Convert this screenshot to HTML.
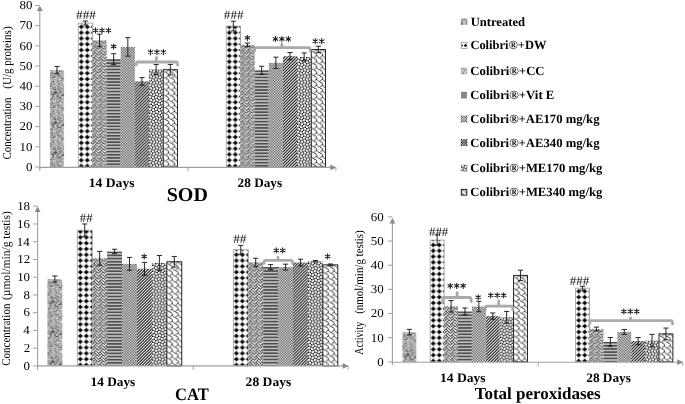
<!DOCTYPE html><html><head><meta charset="utf-8"><style>html,body{margin:0;padding:0;background:#fff;}svg{display:block;font-family:"Liberation Serif",serif;filter:grayscale(1);text-rendering:geometricPrecision;}</style></head><body><svg width="685" height="404" viewBox="0 0 685 404" font-family="Liberation Serif, serif" fill="#000"><defs><pattern id="p_untr" patternUnits="userSpaceOnUse" width="30" height="30"><rect x="0" y="0" width="1" height="1" fill="#c4c4c4"/><rect x="1" y="0" width="1" height="1" fill="#898989"/><rect x="2" y="0" width="1" height="1" fill="#9a9a9a"/><rect x="3" y="0" width="1" height="1" fill="#eaeaea"/><rect x="4" y="0" width="1" height="1" fill="#a7a7a7"/><rect x="5" y="0" width="1" height="1" fill="#cecece"/><rect x="6" y="0" width="1" height="1" fill="#8b8b8b"/><rect x="7" y="0" width="1" height="1" fill="#ababab"/><rect x="8" y="0" width="1" height="1" fill="#bfbfbf"/><rect x="9" y="0" width="1" height="1" fill="#8d8d8d"/><rect x="10" y="0" width="1" height="1" fill="#aeaeae"/><rect x="11" y="0" width="1" height="1" fill="#ababab"/><rect x="12" y="0" width="1" height="1" fill="#cacaca"/><rect x="13" y="0" width="1" height="1" fill="#d7d7d7"/><rect x="14" y="0" width="1" height="1" fill="#eeeeee"/><rect x="15" y="0" width="1" height="1" fill="#cbcbcb"/><rect x="16" y="0" width="1" height="1" fill="#cdcdcd"/><rect x="17" y="0" width="1" height="1" fill="#ababab"/><rect x="18" y="0" width="1" height="1" fill="#767676"/><rect x="19" y="0" width="1" height="1" fill="#595959"/><rect x="20" y="0" width="1" height="1" fill="#c3c3c3"/><rect x="21" y="0" width="1" height="1" fill="#aaaaaa"/><rect x="22" y="0" width="1" height="1" fill="#717171"/><rect x="23" y="0" width="1" height="1" fill="#696969"/><rect x="24" y="0" width="1" height="1" fill="#888888"/><rect x="25" y="0" width="1" height="1" fill="#c7c7c7"/><rect x="26" y="0" width="1" height="1" fill="#d6d6d6"/><rect x="27" y="0" width="1" height="1" fill="#b7b7b7"/><rect x="28" y="0" width="1" height="1" fill="#828282"/><rect x="29" y="0" width="1" height="1" fill="#d0d0d0"/><rect x="0" y="1" width="1" height="1" fill="#c7c7c7"/><rect x="1" y="1" width="1" height="1" fill="#b3b3b3"/><rect x="2" y="1" width="1" height="1" fill="#b4b4b4"/><rect x="3" y="1" width="1" height="1" fill="#c7c7c7"/><rect x="4" y="1" width="1" height="1" fill="#b8b8b8"/><rect x="5" y="1" width="1" height="1" fill="#c9c9c9"/><rect x="6" y="1" width="1" height="1" fill="#979797"/><rect x="7" y="1" width="1" height="1" fill="#c4c4c4"/><rect x="8" y="1" width="1" height="1" fill="#c2c2c2"/><rect x="9" y="1" width="1" height="1" fill="#636363"/><rect x="10" y="1" width="1" height="1" fill="#9a9a9a"/><rect x="11" y="1" width="1" height="1" fill="#8e8e8e"/><rect x="12" y="1" width="1" height="1" fill="#a7a7a7"/><rect x="13" y="1" width="1" height="1" fill="#a0a0a0"/><rect x="14" y="1" width="1" height="1" fill="#d5d5d5"/><rect x="15" y="1" width="1" height="1" fill="#c5c5c5"/><rect x="16" y="1" width="1" height="1" fill="#ababab"/><rect x="17" y="1" width="1" height="1" fill="#a5a5a5"/><rect x="18" y="1" width="1" height="1" fill="#a5a5a5"/><rect x="19" y="1" width="1" height="1" fill="#bebebe"/><rect x="20" y="1" width="1" height="1" fill="#acacac"/><rect x="21" y="1" width="1" height="1" fill="#bdbdbd"/><rect x="22" y="1" width="1" height="1" fill="#979797"/><rect x="23" y="1" width="1" height="1" fill="#727272"/><rect x="24" y="1" width="1" height="1" fill="#999999"/><rect x="25" y="1" width="1" height="1" fill="#afafaf"/><rect x="26" y="1" width="1" height="1" fill="#c8c8c8"/><rect x="27" y="1" width="1" height="1" fill="#929292"/><rect x="28" y="1" width="1" height="1" fill="#989898"/><rect x="29" y="1" width="1" height="1" fill="#cccccc"/><rect x="0" y="2" width="1" height="1" fill="#aeaeae"/><rect x="1" y="2" width="1" height="1" fill="#9e9e9e"/><rect x="2" y="2" width="1" height="1" fill="#818181"/><rect x="3" y="2" width="1" height="1" fill="#a9a9a9"/><rect x="4" y="2" width="1" height="1" fill="#b1b1b1"/><rect x="5" y="2" width="1" height="1" fill="#b7b7b7"/><rect x="6" y="2" width="1" height="1" fill="#999999"/><rect x="7" y="2" width="1" height="1" fill="#7c7c7c"/><rect x="8" y="2" width="1" height="1" fill="#696969"/><rect x="9" y="2" width="1" height="1" fill="#b1b1b1"/><rect x="10" y="2" width="1" height="1" fill="#f0f0f0"/><rect x="11" y="2" width="1" height="1" fill="#9d9d9d"/><rect x="12" y="2" width="1" height="1" fill="#9b9b9b"/><rect x="13" y="2" width="1" height="1" fill="#cecece"/><rect x="14" y="2" width="1" height="1" fill="#a9a9a9"/><rect x="15" y="2" width="1" height="1" fill="#cfcfcf"/><rect x="16" y="2" width="1" height="1" fill="#c2c2c2"/><rect x="17" y="2" width="1" height="1" fill="#a7a7a7"/><rect x="18" y="2" width="1" height="1" fill="#929292"/><rect x="19" y="2" width="1" height="1" fill="#ababab"/><rect x="20" y="2" width="1" height="1" fill="#a5a5a5"/><rect x="21" y="2" width="1" height="1" fill="#dedede"/><rect x="22" y="2" width="1" height="1" fill="#9f9f9f"/><rect x="23" y="2" width="1" height="1" fill="#444444"/><rect x="24" y="2" width="1" height="1" fill="#727272"/><rect x="25" y="2" width="1" height="1" fill="#aaaaaa"/><rect x="26" y="2" width="1" height="1" fill="#9d9d9d"/><rect x="27" y="2" width="1" height="1" fill="#aeaeae"/><rect x="28" y="2" width="1" height="1" fill="#9f9f9f"/><rect x="29" y="2" width="1" height="1" fill="#c1c1c1"/><rect x="0" y="3" width="1" height="1" fill="#8c8c8c"/><rect x="1" y="3" width="1" height="1" fill="#a3a3a3"/><rect x="2" y="3" width="1" height="1" fill="#7f7f7f"/><rect x="3" y="3" width="1" height="1" fill="#a3a3a3"/><rect x="4" y="3" width="1" height="1" fill="#b2b2b2"/><rect x="5" y="3" width="1" height="1" fill="#a7a7a7"/><rect x="6" y="3" width="1" height="1" fill="#ababab"/><rect x="7" y="3" width="1" height="1" fill="#a2a2a2"/><rect x="8" y="3" width="1" height="1" fill="#c1c1c1"/><rect x="9" y="3" width="1" height="1" fill="#bbbbbb"/><rect x="10" y="3" width="1" height="1" fill="#d6d6d6"/><rect x="11" y="3" width="1" height="1" fill="#cccccc"/><rect x="12" y="3" width="1" height="1" fill="#959595"/><rect x="13" y="3" width="1" height="1" fill="#bebebe"/><rect x="14" y="3" width="1" height="1" fill="#c5c5c5"/><rect x="15" y="3" width="1" height="1" fill="#707070"/><rect x="16" y="3" width="1" height="1" fill="#929292"/><rect x="17" y="3" width="1" height="1" fill="#b0b0b0"/><rect x="18" y="3" width="1" height="1" fill="#767676"/><rect x="19" y="3" width="1" height="1" fill="#a6a6a6"/><rect x="20" y="3" width="1" height="1" fill="#aeaeae"/><rect x="21" y="3" width="1" height="1" fill="#555555"/><rect x="22" y="3" width="1" height="1" fill="#515151"/><rect x="23" y="3" width="1" height="1" fill="#a2a2a2"/><rect x="24" y="3" width="1" height="1" fill="#b5b5b5"/><rect x="25" y="3" width="1" height="1" fill="#b7b7b7"/><rect x="26" y="3" width="1" height="1" fill="#8f8f8f"/><rect x="27" y="3" width="1" height="1" fill="#c5c5c5"/><rect x="28" y="3" width="1" height="1" fill="#bcbcbc"/><rect x="29" y="3" width="1" height="1" fill="#f0f0f0"/><rect x="0" y="4" width="1" height="1" fill="#8d8d8d"/><rect x="1" y="4" width="1" height="1" fill="#bbbbbb"/><rect x="2" y="4" width="1" height="1" fill="#848484"/><rect x="3" y="4" width="1" height="1" fill="#aeaeae"/><rect x="4" y="4" width="1" height="1" fill="#a5a5a5"/><rect x="5" y="4" width="1" height="1" fill="#afafaf"/><rect x="6" y="4" width="1" height="1" fill="#9c9c9c"/><rect x="7" y="4" width="1" height="1" fill="#a6a6a6"/><rect x="8" y="4" width="1" height="1" fill="#8f8f8f"/><rect x="9" y="4" width="1" height="1" fill="#b2b2b2"/><rect x="10" y="4" width="1" height="1" fill="#a5a5a5"/><rect x="11" y="4" width="1" height="1" fill="#c1c1c1"/><rect x="12" y="4" width="1" height="1" fill="#9a9a9a"/><rect x="13" y="4" width="1" height="1" fill="#cbcbcb"/><rect x="14" y="4" width="1" height="1" fill="#9c9c9c"/><rect x="15" y="4" width="1" height="1" fill="#d3d3d3"/><rect x="16" y="4" width="1" height="1" fill="#9f9f9f"/><rect x="17" y="4" width="1" height="1" fill="#a0a0a0"/><rect x="18" y="4" width="1" height="1" fill="#838383"/><rect x="19" y="4" width="1" height="1" fill="#b6b6b6"/><rect x="20" y="4" width="1" height="1" fill="#bfbfbf"/><rect x="21" y="4" width="1" height="1" fill="#868686"/><rect x="22" y="4" width="1" height="1" fill="#898989"/><rect x="23" y="4" width="1" height="1" fill="#767676"/><rect x="24" y="4" width="1" height="1" fill="#b3b3b3"/><rect x="25" y="4" width="1" height="1" fill="#989898"/><rect x="26" y="4" width="1" height="1" fill="#c4c4c4"/><rect x="27" y="4" width="1" height="1" fill="#c7c7c7"/><rect x="28" y="4" width="1" height="1" fill="#939393"/><rect x="29" y="4" width="1" height="1" fill="#c8c8c8"/><rect x="0" y="5" width="1" height="1" fill="#bababa"/><rect x="1" y="5" width="1" height="1" fill="#989898"/><rect x="2" y="5" width="1" height="1" fill="#868686"/><rect x="3" y="5" width="1" height="1" fill="#b2b2b2"/><rect x="4" y="5" width="1" height="1" fill="#9e9e9e"/><rect x="5" y="5" width="1" height="1" fill="#a8a8a8"/><rect x="6" y="5" width="1" height="1" fill="#c9c9c9"/><rect x="7" y="5" width="1" height="1" fill="#878787"/><rect x="8" y="5" width="1" height="1" fill="#676767"/><rect x="9" y="5" width="1" height="1" fill="#9e9e9e"/><rect x="10" y="5" width="1" height="1" fill="#9b9b9b"/><rect x="11" y="5" width="1" height="1" fill="#989898"/><rect x="12" y="5" width="1" height="1" fill="#c1c1c1"/><rect x="13" y="5" width="1" height="1" fill="#c6c6c6"/><rect x="14" y="5" width="1" height="1" fill="#b1b1b1"/><rect x="15" y="5" width="1" height="1" fill="#a9a9a9"/><rect x="16" y="5" width="1" height="1" fill="#a4a4a4"/><rect x="17" y="5" width="1" height="1" fill="#c6c6c6"/><rect x="18" y="5" width="1" height="1" fill="#898989"/><rect x="19" y="5" width="1" height="1" fill="#b9b9b9"/><rect x="20" y="5" width="1" height="1" fill="#787878"/><rect x="21" y="5" width="1" height="1" fill="#7f7f7f"/><rect x="22" y="5" width="1" height="1" fill="#868686"/><rect x="23" y="5" width="1" height="1" fill="#909090"/><rect x="24" y="5" width="1" height="1" fill="#8a8a8a"/><rect x="25" y="5" width="1" height="1" fill="#5b5b5b"/><rect x="26" y="5" width="1" height="1" fill="#656565"/><rect x="27" y="5" width="1" height="1" fill="#9d9d9d"/><rect x="28" y="5" width="1" height="1" fill="#a8a8a8"/><rect x="29" y="5" width="1" height="1" fill="#bfbfbf"/><rect x="0" y="6" width="1" height="1" fill="#858585"/><rect x="1" y="6" width="1" height="1" fill="#bfbfbf"/><rect x="2" y="6" width="1" height="1" fill="#b6b6b6"/><rect x="3" y="6" width="1" height="1" fill="#7f7f7f"/><rect x="4" y="6" width="1" height="1" fill="#939393"/><rect x="5" y="6" width="1" height="1" fill="#878787"/><rect x="6" y="6" width="1" height="1" fill="#c2c2c2"/><rect x="7" y="6" width="1" height="1" fill="#bdbdbd"/><rect x="8" y="6" width="1" height="1" fill="#9c9c9c"/><rect x="9" y="6" width="1" height="1" fill="#999999"/><rect x="10" y="6" width="1" height="1" fill="#7c7c7c"/><rect x="11" y="6" width="1" height="1" fill="#9e9e9e"/><rect x="12" y="6" width="1" height="1" fill="#cacaca"/><rect x="13" y="6" width="1" height="1" fill="#c0c0c0"/><rect x="14" y="6" width="1" height="1" fill="#383838"/><rect x="15" y="6" width="1" height="1" fill="#a0a0a0"/><rect x="16" y="6" width="1" height="1" fill="#c2c2c2"/><rect x="17" y="6" width="1" height="1" fill="#939393"/><rect x="18" y="6" width="1" height="1" fill="#858585"/><rect x="19" y="6" width="1" height="1" fill="#c0c0c0"/><rect x="20" y="6" width="1" height="1" fill="#aaaaaa"/><rect x="21" y="6" width="1" height="1" fill="#c3c3c3"/><rect x="22" y="6" width="1" height="1" fill="#c5c5c5"/><rect x="23" y="6" width="1" height="1" fill="#9c9c9c"/><rect x="24" y="6" width="1" height="1" fill="#8f8f8f"/><rect x="25" y="6" width="1" height="1" fill="#7b7b7b"/><rect x="26" y="6" width="1" height="1" fill="#ececec"/><rect x="27" y="6" width="1" height="1" fill="#9d9d9d"/><rect x="28" y="6" width="1" height="1" fill="#a4a4a4"/><rect x="29" y="6" width="1" height="1" fill="#777777"/><rect x="0" y="7" width="1" height="1" fill="#939393"/><rect x="1" y="7" width="1" height="1" fill="#9f9f9f"/><rect x="2" y="7" width="1" height="1" fill="#a3a3a3"/><rect x="3" y="7" width="1" height="1" fill="#3f3f3f"/><rect x="4" y="7" width="1" height="1" fill="#9b9b9b"/><rect x="5" y="7" width="1" height="1" fill="#939393"/><rect x="6" y="7" width="1" height="1" fill="#b6b6b6"/><rect x="7" y="7" width="1" height="1" fill="#a9a9a9"/><rect x="8" y="7" width="1" height="1" fill="#b8b8b8"/><rect x="9" y="7" width="1" height="1" fill="#acacac"/><rect x="10" y="7" width="1" height="1" fill="#aeaeae"/><rect x="11" y="7" width="1" height="1" fill="#a3a3a3"/><rect x="12" y="7" width="1" height="1" fill="#aaaaaa"/><rect x="13" y="7" width="1" height="1" fill="#bcbcbc"/><rect x="14" y="7" width="1" height="1" fill="#939393"/><rect x="15" y="7" width="1" height="1" fill="#c4c4c4"/><rect x="16" y="7" width="1" height="1" fill="#c8c8c8"/><rect x="17" y="7" width="1" height="1" fill="#7d7d7d"/><rect x="18" y="7" width="1" height="1" fill="#bfbfbf"/><rect x="19" y="7" width="1" height="1" fill="#a0a0a0"/><rect x="20" y="7" width="1" height="1" fill="#c5c5c5"/><rect x="21" y="7" width="1" height="1" fill="#aeaeae"/><rect x="22" y="7" width="1" height="1" fill="#959595"/><rect x="23" y="7" width="1" height="1" fill="#8d8d8d"/><rect x="24" y="7" width="1" height="1" fill="#b5b5b5"/><rect x="25" y="7" width="1" height="1" fill="#a6a6a6"/><rect x="26" y="7" width="1" height="1" fill="#adadad"/><rect x="27" y="7" width="1" height="1" fill="#a2a2a2"/><rect x="28" y="7" width="1" height="1" fill="#a5a5a5"/><rect x="29" y="7" width="1" height="1" fill="#b8b8b8"/><rect x="0" y="8" width="1" height="1" fill="#bbbbbb"/><rect x="1" y="8" width="1" height="1" fill="#afafaf"/><rect x="2" y="8" width="1" height="1" fill="#bebebe"/><rect x="3" y="8" width="1" height="1" fill="#a3a3a3"/><rect x="4" y="8" width="1" height="1" fill="#dadada"/><rect x="5" y="8" width="1" height="1" fill="#d5d5d5"/><rect x="6" y="8" width="1" height="1" fill="#e6e6e6"/><rect x="7" y="8" width="1" height="1" fill="#8e8e8e"/><rect x="8" y="8" width="1" height="1" fill="#b2b2b2"/><rect x="9" y="8" width="1" height="1" fill="#969696"/><rect x="10" y="8" width="1" height="1" fill="#cccccc"/><rect x="11" y="8" width="1" height="1" fill="#919191"/><rect x="12" y="8" width="1" height="1" fill="#343434"/><rect x="13" y="8" width="1" height="1" fill="#a3a3a3"/><rect x="14" y="8" width="1" height="1" fill="#9b9b9b"/><rect x="15" y="8" width="1" height="1" fill="#959595"/><rect x="16" y="8" width="1" height="1" fill="#878787"/><rect x="17" y="8" width="1" height="1" fill="#a6a6a6"/><rect x="18" y="8" width="1" height="1" fill="#d1d1d1"/><rect x="19" y="8" width="1" height="1" fill="#bababa"/><rect x="20" y="8" width="1" height="1" fill="#cdcdcd"/><rect x="21" y="8" width="1" height="1" fill="#9e9e9e"/><rect x="22" y="8" width="1" height="1" fill="#acacac"/><rect x="23" y="8" width="1" height="1" fill="#c0c0c0"/><rect x="24" y="8" width="1" height="1" fill="#cacaca"/><rect x="25" y="8" width="1" height="1" fill="#9d9d9d"/><rect x="26" y="8" width="1" height="1" fill="#9d9d9d"/><rect x="27" y="8" width="1" height="1" fill="#9b9b9b"/><rect x="28" y="8" width="1" height="1" fill="#a6a6a6"/><rect x="29" y="8" width="1" height="1" fill="#a1a1a1"/><rect x="0" y="9" width="1" height="1" fill="#c6c6c6"/><rect x="1" y="9" width="1" height="1" fill="#949494"/><rect x="2" y="9" width="1" height="1" fill="#959595"/><rect x="3" y="9" width="1" height="1" fill="#cdcdcd"/><rect x="4" y="9" width="1" height="1" fill="#999999"/><rect x="5" y="9" width="1" height="1" fill="#9c9c9c"/><rect x="6" y="9" width="1" height="1" fill="#a5a5a5"/><rect x="7" y="9" width="1" height="1" fill="#9c9c9c"/><rect x="8" y="9" width="1" height="1" fill="#d7d7d7"/><rect x="9" y="9" width="1" height="1" fill="#d4d4d4"/><rect x="10" y="9" width="1" height="1" fill="#c8c8c8"/><rect x="11" y="9" width="1" height="1" fill="#b9b9b9"/><rect x="12" y="9" width="1" height="1" fill="#a9a9a9"/><rect x="13" y="9" width="1" height="1" fill="#b0b0b0"/><rect x="14" y="9" width="1" height="1" fill="#969696"/><rect x="15" y="9" width="1" height="1" fill="#a8a8a8"/><rect x="16" y="9" width="1" height="1" fill="#c0c0c0"/><rect x="17" y="9" width="1" height="1" fill="#b6b6b6"/><rect x="18" y="9" width="1" height="1" fill="#a5a5a5"/><rect x="19" y="9" width="1" height="1" fill="#bcbcbc"/><rect x="20" y="9" width="1" height="1" fill="#a1a1a1"/><rect x="21" y="9" width="1" height="1" fill="#686868"/><rect x="22" y="9" width="1" height="1" fill="#9c9c9c"/><rect x="23" y="9" width="1" height="1" fill="#b8b8b8"/><rect x="24" y="9" width="1" height="1" fill="#999999"/><rect x="25" y="9" width="1" height="1" fill="#9e9e9e"/><rect x="26" y="9" width="1" height="1" fill="#c5c5c5"/><rect x="27" y="9" width="1" height="1" fill="#979797"/><rect x="28" y="9" width="1" height="1" fill="#929292"/><rect x="29" y="9" width="1" height="1" fill="#dbdbdb"/><rect x="0" y="10" width="1" height="1" fill="#cccccc"/><rect x="1" y="10" width="1" height="1" fill="#c6c6c6"/><rect x="2" y="10" width="1" height="1" fill="#a8a8a8"/><rect x="3" y="10" width="1" height="1" fill="#939393"/><rect x="4" y="10" width="1" height="1" fill="#c7c7c7"/><rect x="5" y="10" width="1" height="1" fill="#bfbfbf"/><rect x="6" y="10" width="1" height="1" fill="#c7c7c7"/><rect x="7" y="10" width="1" height="1" fill="#757575"/><rect x="8" y="10" width="1" height="1" fill="#a6a6a6"/><rect x="9" y="10" width="1" height="1" fill="#a5a5a5"/><rect x="10" y="10" width="1" height="1" fill="#909090"/><rect x="11" y="10" width="1" height="1" fill="#989898"/><rect x="12" y="10" width="1" height="1" fill="#9d9d9d"/><rect x="13" y="10" width="1" height="1" fill="#cacaca"/><rect x="14" y="10" width="1" height="1" fill="#9c9c9c"/><rect x="15" y="10" width="1" height="1" fill="#8a8a8a"/><rect x="16" y="10" width="1" height="1" fill="#909090"/><rect x="17" y="10" width="1" height="1" fill="#b5b5b5"/><rect x="18" y="10" width="1" height="1" fill="#b5b5b5"/><rect x="19" y="10" width="1" height="1" fill="#a0a0a0"/><rect x="20" y="10" width="1" height="1" fill="#616161"/><rect x="21" y="10" width="1" height="1" fill="#a2a2a2"/><rect x="22" y="10" width="1" height="1" fill="#c4c4c4"/><rect x="23" y="10" width="1" height="1" fill="#a6a6a6"/><rect x="24" y="10" width="1" height="1" fill="#8f8f8f"/><rect x="25" y="10" width="1" height="1" fill="#a5a5a5"/><rect x="26" y="10" width="1" height="1" fill="#b0b0b0"/><rect x="27" y="10" width="1" height="1" fill="#8a8a8a"/><rect x="28" y="10" width="1" height="1" fill="#5b5b5b"/><rect x="29" y="10" width="1" height="1" fill="#bbbbbb"/><rect x="0" y="11" width="1" height="1" fill="#c3c3c3"/><rect x="1" y="11" width="1" height="1" fill="#9a9a9a"/><rect x="2" y="11" width="1" height="1" fill="#919191"/><rect x="3" y="11" width="1" height="1" fill="#757575"/><rect x="4" y="11" width="1" height="1" fill="#949494"/><rect x="5" y="11" width="1" height="1" fill="#d0d0d0"/><rect x="6" y="11" width="1" height="1" fill="#bbbbbb"/><rect x="7" y="11" width="1" height="1" fill="#b8b8b8"/><rect x="8" y="11" width="1" height="1" fill="#8d8d8d"/><rect x="9" y="11" width="1" height="1" fill="#c5c5c5"/><rect x="10" y="11" width="1" height="1" fill="#cbcbcb"/><rect x="11" y="11" width="1" height="1" fill="#afafaf"/><rect x="12" y="11" width="1" height="1" fill="#bababa"/><rect x="13" y="11" width="1" height="1" fill="#bababa"/><rect x="14" y="11" width="1" height="1" fill="#a6a6a6"/><rect x="15" y="11" width="1" height="1" fill="#e5e5e5"/><rect x="16" y="11" width="1" height="1" fill="#a8a8a8"/><rect x="17" y="11" width="1" height="1" fill="#aeaeae"/><rect x="18" y="11" width="1" height="1" fill="#f0f0f0"/><rect x="19" y="11" width="1" height="1" fill="#949494"/><rect x="20" y="11" width="1" height="1" fill="#7c7c7c"/><rect x="21" y="11" width="1" height="1" fill="#b0b0b0"/><rect x="22" y="11" width="1" height="1" fill="#6e6e6e"/><rect x="23" y="11" width="1" height="1" fill="#9a9a9a"/><rect x="24" y="11" width="1" height="1" fill="#b5b5b5"/><rect x="25" y="11" width="1" height="1" fill="#bebebe"/><rect x="26" y="11" width="1" height="1" fill="#989898"/><rect x="27" y="11" width="1" height="1" fill="#a2a2a2"/><rect x="28" y="11" width="1" height="1" fill="#b3b3b3"/><rect x="29" y="11" width="1" height="1" fill="#c1c1c1"/><rect x="0" y="12" width="1" height="1" fill="#bebebe"/><rect x="1" y="12" width="1" height="1" fill="#bcbcbc"/><rect x="2" y="12" width="1" height="1" fill="#9c9c9c"/><rect x="3" y="12" width="1" height="1" fill="#9a9a9a"/><rect x="4" y="12" width="1" height="1" fill="#a2a2a2"/><rect x="5" y="12" width="1" height="1" fill="#c8c8c8"/><rect x="6" y="12" width="1" height="1" fill="#b5b5b5"/><rect x="7" y="12" width="1" height="1" fill="#8b8b8b"/><rect x="8" y="12" width="1" height="1" fill="#949494"/><rect x="9" y="12" width="1" height="1" fill="#a0a0a0"/><rect x="10" y="12" width="1" height="1" fill="#bcbcbc"/><rect x="11" y="12" width="1" height="1" fill="#adadad"/><rect x="12" y="12" width="1" height="1" fill="#a3a3a3"/><rect x="13" y="12" width="1" height="1" fill="#f0f0f0"/><rect x="14" y="12" width="1" height="1" fill="#f0f0f0"/><rect x="15" y="12" width="1" height="1" fill="#d2d2d2"/><rect x="16" y="12" width="1" height="1" fill="#b2b2b2"/><rect x="17" y="12" width="1" height="1" fill="#909090"/><rect x="18" y="12" width="1" height="1" fill="#bbbbbb"/><rect x="19" y="12" width="1" height="1" fill="#b4b4b4"/><rect x="20" y="12" width="1" height="1" fill="#8a8a8a"/><rect x="21" y="12" width="1" height="1" fill="#646464"/><rect x="22" y="12" width="1" height="1" fill="#8f8f8f"/><rect x="23" y="12" width="1" height="1" fill="#8e8e8e"/><rect x="24" y="12" width="1" height="1" fill="#929292"/><rect x="25" y="12" width="1" height="1" fill="#a4a4a4"/><rect x="26" y="12" width="1" height="1" fill="#747474"/><rect x="27" y="12" width="1" height="1" fill="#a8a8a8"/><rect x="28" y="12" width="1" height="1" fill="#bbbbbb"/><rect x="29" y="12" width="1" height="1" fill="#a6a6a6"/><rect x="0" y="13" width="1" height="1" fill="#858585"/><rect x="1" y="13" width="1" height="1" fill="#7a7a7a"/><rect x="2" y="13" width="1" height="1" fill="#c5c5c5"/><rect x="3" y="13" width="1" height="1" fill="#a9a9a9"/><rect x="4" y="13" width="1" height="1" fill="#8c8c8c"/><rect x="5" y="13" width="1" height="1" fill="#cbcbcb"/><rect x="6" y="13" width="1" height="1" fill="#c4c4c4"/><rect x="7" y="13" width="1" height="1" fill="#bebebe"/><rect x="8" y="13" width="1" height="1" fill="#8c8c8c"/><rect x="9" y="13" width="1" height="1" fill="#969696"/><rect x="10" y="13" width="1" height="1" fill="#9b9b9b"/><rect x="11" y="13" width="1" height="1" fill="#b3b3b3"/><rect x="12" y="13" width="1" height="1" fill="#b4b4b4"/><rect x="13" y="13" width="1" height="1" fill="#c1c1c1"/><rect x="14" y="13" width="1" height="1" fill="#c5c5c5"/><rect x="15" y="13" width="1" height="1" fill="#cccccc"/><rect x="16" y="13" width="1" height="1" fill="#aeaeae"/><rect x="17" y="13" width="1" height="1" fill="#c0c0c0"/><rect x="18" y="13" width="1" height="1" fill="#c6c6c6"/><rect x="19" y="13" width="1" height="1" fill="#bababa"/><rect x="20" y="13" width="1" height="1" fill="#878787"/><rect x="21" y="13" width="1" height="1" fill="#9b9b9b"/><rect x="22" y="13" width="1" height="1" fill="#c8c8c8"/><rect x="23" y="13" width="1" height="1" fill="#c6c6c6"/><rect x="24" y="13" width="1" height="1" fill="#bfbfbf"/><rect x="25" y="13" width="1" height="1" fill="#a9a9a9"/><rect x="26" y="13" width="1" height="1" fill="#828282"/><rect x="27" y="13" width="1" height="1" fill="#b4b4b4"/><rect x="28" y="13" width="1" height="1" fill="#939393"/><rect x="29" y="13" width="1" height="1" fill="#bebebe"/><rect x="0" y="14" width="1" height="1" fill="#828282"/><rect x="1" y="14" width="1" height="1" fill="#a8a8a8"/><rect x="2" y="14" width="1" height="1" fill="#a4a4a4"/><rect x="3" y="14" width="1" height="1" fill="#999999"/><rect x="4" y="14" width="1" height="1" fill="#a0a0a0"/><rect x="5" y="14" width="1" height="1" fill="#a7a7a7"/><rect x="6" y="14" width="1" height="1" fill="#cccccc"/><rect x="7" y="14" width="1" height="1" fill="#c9c9c9"/><rect x="8" y="14" width="1" height="1" fill="#939393"/><rect x="9" y="14" width="1" height="1" fill="#8f8f8f"/><rect x="10" y="14" width="1" height="1" fill="#e6e6e6"/><rect x="11" y="14" width="1" height="1" fill="#8a8a8a"/><rect x="12" y="14" width="1" height="1" fill="#a9a9a9"/><rect x="13" y="14" width="1" height="1" fill="#c6c6c6"/><rect x="14" y="14" width="1" height="1" fill="#afafaf"/><rect x="15" y="14" width="1" height="1" fill="#8a8a8a"/><rect x="16" y="14" width="1" height="1" fill="#b7b7b7"/><rect x="17" y="14" width="1" height="1" fill="#979797"/><rect x="18" y="14" width="1" height="1" fill="#c9c9c9"/><rect x="19" y="14" width="1" height="1" fill="#8a8a8a"/><rect x="20" y="14" width="1" height="1" fill="#939393"/><rect x="21" y="14" width="1" height="1" fill="#9b9b9b"/><rect x="22" y="14" width="1" height="1" fill="#717171"/><rect x="23" y="14" width="1" height="1" fill="#828282"/><rect x="24" y="14" width="1" height="1" fill="#a0a0a0"/><rect x="25" y="14" width="1" height="1" fill="#afafaf"/><rect x="26" y="14" width="1" height="1" fill="#a0a0a0"/><rect x="27" y="14" width="1" height="1" fill="#848484"/><rect x="28" y="14" width="1" height="1" fill="#686868"/><rect x="29" y="14" width="1" height="1" fill="#858585"/><rect x="0" y="15" width="1" height="1" fill="#979797"/><rect x="1" y="15" width="1" height="1" fill="#999999"/><rect x="2" y="15" width="1" height="1" fill="#8d8d8d"/><rect x="3" y="15" width="1" height="1" fill="#cccccc"/><rect x="4" y="15" width="1" height="1" fill="#bdbdbd"/><rect x="5" y="15" width="1" height="1" fill="#c7c7c7"/><rect x="6" y="15" width="1" height="1" fill="#929292"/><rect x="7" y="15" width="1" height="1" fill="#929292"/><rect x="8" y="15" width="1" height="1" fill="#c2c2c2"/><rect x="9" y="15" width="1" height="1" fill="#c0c0c0"/><rect x="10" y="15" width="1" height="1" fill="#959595"/><rect x="11" y="15" width="1" height="1" fill="#989898"/><rect x="12" y="15" width="1" height="1" fill="#9c9c9c"/><rect x="13" y="15" width="1" height="1" fill="#b7b7b7"/><rect x="14" y="15" width="1" height="1" fill="#9c9c9c"/><rect x="15" y="15" width="1" height="1" fill="#939393"/><rect x="16" y="15" width="1" height="1" fill="#7d7d7d"/><rect x="17" y="15" width="1" height="1" fill="#bcbcbc"/><rect x="18" y="15" width="1" height="1" fill="#d6d6d6"/><rect x="19" y="15" width="1" height="1" fill="#9f9f9f"/><rect x="20" y="15" width="1" height="1" fill="#929292"/><rect x="21" y="15" width="1" height="1" fill="#878787"/><rect x="22" y="15" width="1" height="1" fill="#a8a8a8"/><rect x="23" y="15" width="1" height="1" fill="#9f9f9f"/><rect x="24" y="15" width="1" height="1" fill="#cccccc"/><rect x="25" y="15" width="1" height="1" fill="#9b9b9b"/><rect x="26" y="15" width="1" height="1" fill="#929292"/><rect x="27" y="15" width="1" height="1" fill="#9d9d9d"/><rect x="28" y="15" width="1" height="1" fill="#898989"/><rect x="29" y="15" width="1" height="1" fill="#a3a3a3"/><rect x="0" y="16" width="1" height="1" fill="#7d7d7d"/><rect x="1" y="16" width="1" height="1" fill="#969696"/><rect x="2" y="16" width="1" height="1" fill="#8d8d8d"/><rect x="3" y="16" width="1" height="1" fill="#bdbdbd"/><rect x="4" y="16" width="1" height="1" fill="#c8c8c8"/><rect x="5" y="16" width="1" height="1" fill="#8f8f8f"/><rect x="6" y="16" width="1" height="1" fill="#cbcbcb"/><rect x="7" y="16" width="1" height="1" fill="#c8c8c8"/><rect x="8" y="16" width="1" height="1" fill="#5d5d5d"/><rect x="9" y="16" width="1" height="1" fill="#a0a0a0"/><rect x="10" y="16" width="1" height="1" fill="#c9c9c9"/><rect x="11" y="16" width="1" height="1" fill="#e6e6e6"/><rect x="12" y="16" width="1" height="1" fill="#d3d3d3"/><rect x="13" y="16" width="1" height="1" fill="#8a8a8a"/><rect x="14" y="16" width="1" height="1" fill="#9e9e9e"/><rect x="15" y="16" width="1" height="1" fill="#c5c5c5"/><rect x="16" y="16" width="1" height="1" fill="#b2b2b2"/><rect x="17" y="16" width="1" height="1" fill="#cacaca"/><rect x="18" y="16" width="1" height="1" fill="#c5c5c5"/><rect x="19" y="16" width="1" height="1" fill="#b1b1b1"/><rect x="20" y="16" width="1" height="1" fill="#909090"/><rect x="21" y="16" width="1" height="1" fill="#ababab"/><rect x="22" y="16" width="1" height="1" fill="#8a8a8a"/><rect x="23" y="16" width="1" height="1" fill="#989898"/><rect x="24" y="16" width="1" height="1" fill="#cbcbcb"/><rect x="25" y="16" width="1" height="1" fill="#cdcdcd"/><rect x="26" y="16" width="1" height="1" fill="#b8b8b8"/><rect x="27" y="16" width="1" height="1" fill="#dfdfdf"/><rect x="28" y="16" width="1" height="1" fill="#969696"/><rect x="29" y="16" width="1" height="1" fill="#b6b6b6"/><rect x="0" y="17" width="1" height="1" fill="#b9b9b9"/><rect x="1" y="17" width="1" height="1" fill="#c3c3c3"/><rect x="2" y="17" width="1" height="1" fill="#c6c6c6"/><rect x="3" y="17" width="1" height="1" fill="#838383"/><rect x="4" y="17" width="1" height="1" fill="#7a7a7a"/><rect x="5" y="17" width="1" height="1" fill="#979797"/><rect x="6" y="17" width="1" height="1" fill="#bfbfbf"/><rect x="7" y="17" width="1" height="1" fill="#a5a5a5"/><rect x="8" y="17" width="1" height="1" fill="#a9a9a9"/><rect x="9" y="17" width="1" height="1" fill="#8b8b8b"/><rect x="10" y="17" width="1" height="1" fill="#959595"/><rect x="11" y="17" width="1" height="1" fill="#7a7a7a"/><rect x="12" y="17" width="1" height="1" fill="#dcdcdc"/><rect x="13" y="17" width="1" height="1" fill="#b3b3b3"/><rect x="14" y="17" width="1" height="1" fill="#9a9a9a"/><rect x="15" y="17" width="1" height="1" fill="#9e9e9e"/><rect x="16" y="17" width="1" height="1" fill="#bbbbbb"/><rect x="17" y="17" width="1" height="1" fill="#a1a1a1"/><rect x="18" y="17" width="1" height="1" fill="#bcbcbc"/><rect x="19" y="17" width="1" height="1" fill="#a8a8a8"/><rect x="20" y="17" width="1" height="1" fill="#b5b5b5"/><rect x="21" y="17" width="1" height="1" fill="#888888"/><rect x="22" y="17" width="1" height="1" fill="#6a6a6a"/><rect x="23" y="17" width="1" height="1" fill="#969696"/><rect x="24" y="17" width="1" height="1" fill="#b2b2b2"/><rect x="25" y="17" width="1" height="1" fill="#b5b5b5"/><rect x="26" y="17" width="1" height="1" fill="#a6a6a6"/><rect x="27" y="17" width="1" height="1" fill="#a6a6a6"/><rect x="28" y="17" width="1" height="1" fill="#747474"/><rect x="29" y="17" width="1" height="1" fill="#858585"/><rect x="0" y="18" width="1" height="1" fill="#adadad"/><rect x="1" y="18" width="1" height="1" fill="#a7a7a7"/><rect x="2" y="18" width="1" height="1" fill="#aaaaaa"/><rect x="3" y="18" width="1" height="1" fill="#818181"/><rect x="4" y="18" width="1" height="1" fill="#767676"/><rect x="5" y="18" width="1" height="1" fill="#acacac"/><rect x="6" y="18" width="1" height="1" fill="#bdbdbd"/><rect x="7" y="18" width="1" height="1" fill="#838383"/><rect x="8" y="18" width="1" height="1" fill="#8b8b8b"/><rect x="9" y="18" width="1" height="1" fill="#949494"/><rect x="10" y="18" width="1" height="1" fill="#999999"/><rect x="11" y="18" width="1" height="1" fill="#919191"/><rect x="12" y="18" width="1" height="1" fill="#a9a9a9"/><rect x="13" y="18" width="1" height="1" fill="#999999"/><rect x="14" y="18" width="1" height="1" fill="#b6b6b6"/><rect x="15" y="18" width="1" height="1" fill="#a5a5a5"/><rect x="16" y="18" width="1" height="1" fill="#a5a5a5"/><rect x="17" y="18" width="1" height="1" fill="#b3b3b3"/><rect x="18" y="18" width="1" height="1" fill="#b6b6b6"/><rect x="19" y="18" width="1" height="1" fill="#535353"/><rect x="20" y="18" width="1" height="1" fill="#aeaeae"/><rect x="21" y="18" width="1" height="1" fill="#626262"/><rect x="22" y="18" width="1" height="1" fill="#a4a4a4"/><rect x="23" y="18" width="1" height="1" fill="#8b8b8b"/><rect x="24" y="18" width="1" height="1" fill="#e9e9e9"/><rect x="25" y="18" width="1" height="1" fill="#b8b8b8"/><rect x="26" y="18" width="1" height="1" fill="#a3a3a3"/><rect x="27" y="18" width="1" height="1" fill="#999999"/><rect x="28" y="18" width="1" height="1" fill="#939393"/><rect x="29" y="18" width="1" height="1" fill="#8e8e8e"/><rect x="0" y="19" width="1" height="1" fill="#c6c6c6"/><rect x="1" y="19" width="1" height="1" fill="#bfbfbf"/><rect x="2" y="19" width="1" height="1" fill="#929292"/><rect x="3" y="19" width="1" height="1" fill="#b6b6b6"/><rect x="4" y="19" width="1" height="1" fill="#8b8b8b"/><rect x="5" y="19" width="1" height="1" fill="#474747"/><rect x="6" y="19" width="1" height="1" fill="#acacac"/><rect x="7" y="19" width="1" height="1" fill="#8b8b8b"/><rect x="8" y="19" width="1" height="1" fill="#8a8a8a"/><rect x="9" y="19" width="1" height="1" fill="#b0b0b0"/><rect x="10" y="19" width="1" height="1" fill="#999999"/><rect x="11" y="19" width="1" height="1" fill="#c4c4c4"/><rect x="12" y="19" width="1" height="1" fill="#bbbbbb"/><rect x="13" y="19" width="1" height="1" fill="#adadad"/><rect x="14" y="19" width="1" height="1" fill="#b8b8b8"/><rect x="15" y="19" width="1" height="1" fill="#959595"/><rect x="16" y="19" width="1" height="1" fill="#8f8f8f"/><rect x="17" y="19" width="1" height="1" fill="#969696"/><rect x="18" y="19" width="1" height="1" fill="#adadad"/><rect x="19" y="19" width="1" height="1" fill="#aaaaaa"/><rect x="20" y="19" width="1" height="1" fill="#b7b7b7"/><rect x="21" y="19" width="1" height="1" fill="#8d8d8d"/><rect x="22" y="19" width="1" height="1" fill="#999999"/><rect x="23" y="19" width="1" height="1" fill="#888888"/><rect x="24" y="19" width="1" height="1" fill="#9c9c9c"/><rect x="25" y="19" width="1" height="1" fill="#959595"/><rect x="26" y="19" width="1" height="1" fill="#737373"/><rect x="27" y="19" width="1" height="1" fill="#a3a3a3"/><rect x="28" y="19" width="1" height="1" fill="#929292"/><rect x="29" y="19" width="1" height="1" fill="#8e8e8e"/><rect x="0" y="20" width="1" height="1" fill="#cecece"/><rect x="1" y="20" width="1" height="1" fill="#b7b7b7"/><rect x="2" y="20" width="1" height="1" fill="#bfbfbf"/><rect x="3" y="20" width="1" height="1" fill="#cacaca"/><rect x="4" y="20" width="1" height="1" fill="#ababab"/><rect x="5" y="20" width="1" height="1" fill="#a3a3a3"/><rect x="6" y="20" width="1" height="1" fill="#aaaaaa"/><rect x="7" y="20" width="1" height="1" fill="#d0d0d0"/><rect x="8" y="20" width="1" height="1" fill="#b2b2b2"/><rect x="9" y="20" width="1" height="1" fill="#919191"/><rect x="10" y="20" width="1" height="1" fill="#9a9a9a"/><rect x="11" y="20" width="1" height="1" fill="#7d7d7d"/><rect x="12" y="20" width="1" height="1" fill="#adadad"/><rect x="13" y="20" width="1" height="1" fill="#9d9d9d"/><rect x="14" y="20" width="1" height="1" fill="#e2e2e2"/><rect x="15" y="20" width="1" height="1" fill="#c7c7c7"/><rect x="16" y="20" width="1" height="1" fill="#b7b7b7"/><rect x="17" y="20" width="1" height="1" fill="#cccccc"/><rect x="18" y="20" width="1" height="1" fill="#ababab"/><rect x="19" y="20" width="1" height="1" fill="#c7c7c7"/><rect x="20" y="20" width="1" height="1" fill="#a8a8a8"/><rect x="21" y="20" width="1" height="1" fill="#959595"/><rect x="22" y="20" width="1" height="1" fill="#a4a4a4"/><rect x="23" y="20" width="1" height="1" fill="#9f9f9f"/><rect x="24" y="20" width="1" height="1" fill="#a5a5a5"/><rect x="25" y="20" width="1" height="1" fill="#b8b8b8"/><rect x="26" y="20" width="1" height="1" fill="#a4a4a4"/><rect x="27" y="20" width="1" height="1" fill="#c7c7c7"/><rect x="28" y="20" width="1" height="1" fill="#b1b1b1"/><rect x="29" y="20" width="1" height="1" fill="#cdcdcd"/><rect x="0" y="21" width="1" height="1" fill="#bfbfbf"/><rect x="1" y="21" width="1" height="1" fill="#8b8b8b"/><rect x="2" y="21" width="1" height="1" fill="#bababa"/><rect x="3" y="21" width="1" height="1" fill="#acacac"/><rect x="4" y="21" width="1" height="1" fill="#888888"/><rect x="5" y="21" width="1" height="1" fill="#6d6d6d"/><rect x="6" y="21" width="1" height="1" fill="#757575"/><rect x="7" y="21" width="1" height="1" fill="#cfcfcf"/><rect x="8" y="21" width="1" height="1" fill="#929292"/><rect x="9" y="21" width="1" height="1" fill="#999999"/><rect x="10" y="21" width="1" height="1" fill="#878787"/><rect x="11" y="21" width="1" height="1" fill="#b3b3b3"/><rect x="12" y="21" width="1" height="1" fill="#a4a4a4"/><rect x="13" y="21" width="1" height="1" fill="#cdcdcd"/><rect x="14" y="21" width="1" height="1" fill="#a0a0a0"/><rect x="15" y="21" width="1" height="1" fill="#7b7b7b"/><rect x="16" y="21" width="1" height="1" fill="#8f8f8f"/><rect x="17" y="21" width="1" height="1" fill="#959595"/><rect x="18" y="21" width="1" height="1" fill="#c9c9c9"/><rect x="19" y="21" width="1" height="1" fill="#c1c1c1"/><rect x="20" y="21" width="1" height="1" fill="#acacac"/><rect x="21" y="21" width="1" height="1" fill="#949494"/><rect x="22" y="21" width="1" height="1" fill="#b1b1b1"/><rect x="23" y="21" width="1" height="1" fill="#969696"/><rect x="24" y="21" width="1" height="1" fill="#b3b3b3"/><rect x="25" y="21" width="1" height="1" fill="#cbcbcb"/><rect x="26" y="21" width="1" height="1" fill="#bdbdbd"/><rect x="27" y="21" width="1" height="1" fill="#969696"/><rect x="28" y="21" width="1" height="1" fill="#c0c0c0"/><rect x="29" y="21" width="1" height="1" fill="#999999"/><rect x="0" y="22" width="1" height="1" fill="#c1c1c1"/><rect x="1" y="22" width="1" height="1" fill="#8a8a8a"/><rect x="2" y="22" width="1" height="1" fill="#a0a0a0"/><rect x="3" y="22" width="1" height="1" fill="#969696"/><rect x="4" y="22" width="1" height="1" fill="#575757"/><rect x="5" y="22" width="1" height="1" fill="#585858"/><rect x="6" y="22" width="1" height="1" fill="#4a4a4a"/><rect x="7" y="22" width="1" height="1" fill="#949494"/><rect x="8" y="22" width="1" height="1" fill="#c5c5c5"/><rect x="9" y="22" width="1" height="1" fill="#999999"/><rect x="10" y="22" width="1" height="1" fill="#858585"/><rect x="11" y="22" width="1" height="1" fill="#999999"/><rect x="12" y="22" width="1" height="1" fill="#9d9d9d"/><rect x="13" y="22" width="1" height="1" fill="#9e9e9e"/><rect x="14" y="22" width="1" height="1" fill="#919191"/><rect x="15" y="22" width="1" height="1" fill="#a4a4a4"/><rect x="16" y="22" width="1" height="1" fill="#b7b7b7"/><rect x="17" y="22" width="1" height="1" fill="#c9c9c9"/><rect x="18" y="22" width="1" height="1" fill="#dedede"/><rect x="19" y="22" width="1" height="1" fill="#969696"/><rect x="20" y="22" width="1" height="1" fill="#b8b8b8"/><rect x="21" y="22" width="1" height="1" fill="#9c9c9c"/><rect x="22" y="22" width="1" height="1" fill="#8b8b8b"/><rect x="23" y="22" width="1" height="1" fill="#cdcdcd"/><rect x="24" y="22" width="1" height="1" fill="#c9c9c9"/><rect x="25" y="22" width="1" height="1" fill="#909090"/><rect x="26" y="22" width="1" height="1" fill="#b2b2b2"/><rect x="27" y="22" width="1" height="1" fill="#999999"/><rect x="28" y="22" width="1" height="1" fill="#8d8d8d"/><rect x="29" y="22" width="1" height="1" fill="#919191"/><rect x="0" y="23" width="1" height="1" fill="#909090"/><rect x="1" y="23" width="1" height="1" fill="#bebebe"/><rect x="2" y="23" width="1" height="1" fill="#8d8d8d"/><rect x="3" y="23" width="1" height="1" fill="#959595"/><rect x="4" y="23" width="1" height="1" fill="#737373"/><rect x="5" y="23" width="1" height="1" fill="#535353"/><rect x="6" y="23" width="1" height="1" fill="#7c7c7c"/><rect x="7" y="23" width="1" height="1" fill="#a7a7a7"/><rect x="8" y="23" width="1" height="1" fill="#8b8b8b"/><rect x="9" y="23" width="1" height="1" fill="#787878"/><rect x="10" y="23" width="1" height="1" fill="#989898"/><rect x="11" y="23" width="1" height="1" fill="#c0c0c0"/><rect x="12" y="23" width="1" height="1" fill="#b6b6b6"/><rect x="13" y="23" width="1" height="1" fill="#b4b4b4"/><rect x="14" y="23" width="1" height="1" fill="#8b8b8b"/><rect x="15" y="23" width="1" height="1" fill="#b5b5b5"/><rect x="16" y="23" width="1" height="1" fill="#e6e6e6"/><rect x="17" y="23" width="1" height="1" fill="#818181"/><rect x="18" y="23" width="1" height="1" fill="#8f8f8f"/><rect x="19" y="23" width="1" height="1" fill="#a3a3a3"/><rect x="20" y="23" width="1" height="1" fill="#898989"/><rect x="21" y="23" width="1" height="1" fill="#616161"/><rect x="22" y="23" width="1" height="1" fill="#444444"/><rect x="23" y="23" width="1" height="1" fill="#878787"/><rect x="24" y="23" width="1" height="1" fill="#a2a2a2"/><rect x="25" y="23" width="1" height="1" fill="#8e8e8e"/><rect x="26" y="23" width="1" height="1" fill="#aaaaaa"/><rect x="27" y="23" width="1" height="1" fill="#b9b9b9"/><rect x="28" y="23" width="1" height="1" fill="#d5d5d5"/><rect x="29" y="23" width="1" height="1" fill="#888888"/><rect x="0" y="24" width="1" height="1" fill="#bdbdbd"/><rect x="1" y="24" width="1" height="1" fill="#8b8b8b"/><rect x="2" y="24" width="1" height="1" fill="#676767"/><rect x="3" y="24" width="1" height="1" fill="#474747"/><rect x="4" y="24" width="1" height="1" fill="#b2b2b2"/><rect x="5" y="24" width="1" height="1" fill="#959595"/><rect x="6" y="24" width="1" height="1" fill="#c3c3c3"/><rect x="7" y="24" width="1" height="1" fill="#919191"/><rect x="8" y="24" width="1" height="1" fill="#909090"/><rect x="9" y="24" width="1" height="1" fill="#898989"/><rect x="10" y="24" width="1" height="1" fill="#ededed"/><rect x="11" y="24" width="1" height="1" fill="#b3b3b3"/><rect x="12" y="24" width="1" height="1" fill="#858585"/><rect x="13" y="24" width="1" height="1" fill="#4d4d4d"/><rect x="14" y="24" width="1" height="1" fill="#a0a0a0"/><rect x="15" y="24" width="1" height="1" fill="#818181"/><rect x="16" y="24" width="1" height="1" fill="#9a9a9a"/><rect x="17" y="24" width="1" height="1" fill="#8b8b8b"/><rect x="18" y="24" width="1" height="1" fill="#5f5f5f"/><rect x="19" y="24" width="1" height="1" fill="#6a6a6a"/><rect x="20" y="24" width="1" height="1" fill="#909090"/><rect x="21" y="24" width="1" height="1" fill="#8b8b8b"/><rect x="22" y="24" width="1" height="1" fill="#9f9f9f"/><rect x="23" y="24" width="1" height="1" fill="#6b6b6b"/><rect x="24" y="24" width="1" height="1" fill="#bfbfbf"/><rect x="25" y="24" width="1" height="1" fill="#9d9d9d"/><rect x="26" y="24" width="1" height="1" fill="#919191"/><rect x="27" y="24" width="1" height="1" fill="#bbbbbb"/><rect x="28" y="24" width="1" height="1" fill="#b5b5b5"/><rect x="29" y="24" width="1" height="1" fill="#7e7e7e"/><rect x="0" y="25" width="1" height="1" fill="#c1c1c1"/><rect x="1" y="25" width="1" height="1" fill="#b5b5b5"/><rect x="2" y="25" width="1" height="1" fill="#b0b0b0"/><rect x="3" y="25" width="1" height="1" fill="#6c6c6c"/><rect x="4" y="25" width="1" height="1" fill="#b0b0b0"/><rect x="5" y="25" width="1" height="1" fill="#cfcfcf"/><rect x="6" y="25" width="1" height="1" fill="#a4a4a4"/><rect x="7" y="25" width="1" height="1" fill="#616161"/><rect x="8" y="25" width="1" height="1" fill="#a5a5a5"/><rect x="9" y="25" width="1" height="1" fill="#b9b9b9"/><rect x="10" y="25" width="1" height="1" fill="#c4c4c4"/><rect x="11" y="25" width="1" height="1" fill="#6a6a6a"/><rect x="12" y="25" width="1" height="1" fill="#515151"/><rect x="13" y="25" width="1" height="1" fill="#777777"/><rect x="14" y="25" width="1" height="1" fill="#7e7e7e"/><rect x="15" y="25" width="1" height="1" fill="#848484"/><rect x="16" y="25" width="1" height="1" fill="#989898"/><rect x="17" y="25" width="1" height="1" fill="#cacaca"/><rect x="18" y="25" width="1" height="1" fill="#999999"/><rect x="19" y="25" width="1" height="1" fill="#b2b2b2"/><rect x="20" y="25" width="1" height="1" fill="#9e9e9e"/><rect x="21" y="25" width="1" height="1" fill="#bababa"/><rect x="22" y="25" width="1" height="1" fill="#f0f0f0"/><rect x="23" y="25" width="1" height="1" fill="#cecece"/><rect x="24" y="25" width="1" height="1" fill="#9b9b9b"/><rect x="25" y="25" width="1" height="1" fill="#acacac"/><rect x="26" y="25" width="1" height="1" fill="#b8b8b8"/><rect x="27" y="25" width="1" height="1" fill="#a3a3a3"/><rect x="28" y="25" width="1" height="1" fill="#acacac"/><rect x="29" y="25" width="1" height="1" fill="#c8c8c8"/><rect x="0" y="26" width="1" height="1" fill="#dbdbdb"/><rect x="1" y="26" width="1" height="1" fill="#d0d0d0"/><rect x="2" y="26" width="1" height="1" fill="#8f8f8f"/><rect x="3" y="26" width="1" height="1" fill="#7d7d7d"/><rect x="4" y="26" width="1" height="1" fill="#858585"/><rect x="5" y="26" width="1" height="1" fill="#e7e7e7"/><rect x="6" y="26" width="1" height="1" fill="#9b9b9b"/><rect x="7" y="26" width="1" height="1" fill="#6d6d6d"/><rect x="8" y="26" width="1" height="1" fill="#888888"/><rect x="9" y="26" width="1" height="1" fill="#d9d9d9"/><rect x="10" y="26" width="1" height="1" fill="#939393"/><rect x="11" y="26" width="1" height="1" fill="#909090"/><rect x="12" y="26" width="1" height="1" fill="#cccccc"/><rect x="13" y="26" width="1" height="1" fill="#bcbcbc"/><rect x="14" y="26" width="1" height="1" fill="#a3a3a3"/><rect x="15" y="26" width="1" height="1" fill="#bebebe"/><rect x="16" y="26" width="1" height="1" fill="#acacac"/><rect x="17" y="26" width="1" height="1" fill="#ababab"/><rect x="18" y="26" width="1" height="1" fill="#aeaeae"/><rect x="19" y="26" width="1" height="1" fill="#858585"/><rect x="20" y="26" width="1" height="1" fill="#a2a2a2"/><rect x="21" y="26" width="1" height="1" fill="#bfbfbf"/><rect x="22" y="26" width="1" height="1" fill="#b1b1b1"/><rect x="23" y="26" width="1" height="1" fill="#d4d4d4"/><rect x="24" y="26" width="1" height="1" fill="#b1b1b1"/><rect x="25" y="26" width="1" height="1" fill="#9c9c9c"/><rect x="26" y="26" width="1" height="1" fill="#b0b0b0"/><rect x="27" y="26" width="1" height="1" fill="#b5b5b5"/><rect x="28" y="26" width="1" height="1" fill="#818181"/><rect x="29" y="26" width="1" height="1" fill="#cdcdcd"/><rect x="0" y="27" width="1" height="1" fill="#dbdbdb"/><rect x="1" y="27" width="1" height="1" fill="#c1c1c1"/><rect x="2" y="27" width="1" height="1" fill="#747474"/><rect x="3" y="27" width="1" height="1" fill="#aeaeae"/><rect x="4" y="27" width="1" height="1" fill="#a6a6a6"/><rect x="5" y="27" width="1" height="1" fill="#a9a9a9"/><rect x="6" y="27" width="1" height="1" fill="#c0c0c0"/><rect x="7" y="27" width="1" height="1" fill="#a0a0a0"/><rect x="8" y="27" width="1" height="1" fill="#6e6e6e"/><rect x="9" y="27" width="1" height="1" fill="#5a5a5a"/><rect x="10" y="27" width="1" height="1" fill="#484848"/><rect x="11" y="27" width="1" height="1" fill="#a3a3a3"/><rect x="12" y="27" width="1" height="1" fill="#e5e5e5"/><rect x="13" y="27" width="1" height="1" fill="#b0b0b0"/><rect x="14" y="27" width="1" height="1" fill="#9b9b9b"/><rect x="15" y="27" width="1" height="1" fill="#999999"/><rect x="16" y="27" width="1" height="1" fill="#c8c8c8"/><rect x="17" y="27" width="1" height="1" fill="#8f8f8f"/><rect x="18" y="27" width="1" height="1" fill="#969696"/><rect x="19" y="27" width="1" height="1" fill="#9e9e9e"/><rect x="20" y="27" width="1" height="1" fill="#aaaaaa"/><rect x="21" y="27" width="1" height="1" fill="#b2b2b2"/><rect x="22" y="27" width="1" height="1" fill="#a6a6a6"/><rect x="23" y="27" width="1" height="1" fill="#979797"/><rect x="24" y="27" width="1" height="1" fill="#8e8e8e"/><rect x="25" y="27" width="1" height="1" fill="#a8a8a8"/><rect x="26" y="27" width="1" height="1" fill="#8c8c8c"/><rect x="27" y="27" width="1" height="1" fill="#999999"/><rect x="28" y="27" width="1" height="1" fill="#a7a7a7"/><rect x="29" y="27" width="1" height="1" fill="#b7b7b7"/><rect x="0" y="28" width="1" height="1" fill="#9c9c9c"/><rect x="1" y="28" width="1" height="1" fill="#b1b1b1"/><rect x="2" y="28" width="1" height="1" fill="#8e8e8e"/><rect x="3" y="28" width="1" height="1" fill="#a1a1a1"/><rect x="4" y="28" width="1" height="1" fill="#cecece"/><rect x="5" y="28" width="1" height="1" fill="#9b9b9b"/><rect x="6" y="28" width="1" height="1" fill="#9b9b9b"/><rect x="7" y="28" width="1" height="1" fill="#a5a5a5"/><rect x="8" y="28" width="1" height="1" fill="#949494"/><rect x="9" y="28" width="1" height="1" fill="#b7b7b7"/><rect x="10" y="28" width="1" height="1" fill="#a5a5a5"/><rect x="11" y="28" width="1" height="1" fill="#b2b2b2"/><rect x="12" y="28" width="1" height="1" fill="#b4b4b4"/><rect x="13" y="28" width="1" height="1" fill="#ababab"/><rect x="14" y="28" width="1" height="1" fill="#989898"/><rect x="15" y="28" width="1" height="1" fill="#969696"/><rect x="16" y="28" width="1" height="1" fill="#cecece"/><rect x="17" y="28" width="1" height="1" fill="#a4a4a4"/><rect x="18" y="28" width="1" height="1" fill="#a1a1a1"/><rect x="19" y="28" width="1" height="1" fill="#929292"/><rect x="20" y="28" width="1" height="1" fill="#c0c0c0"/><rect x="21" y="28" width="1" height="1" fill="#c2c2c2"/><rect x="22" y="28" width="1" height="1" fill="#b4b4b4"/><rect x="23" y="28" width="1" height="1" fill="#adadad"/><rect x="24" y="28" width="1" height="1" fill="#939393"/><rect x="25" y="28" width="1" height="1" fill="#8c8c8c"/><rect x="26" y="28" width="1" height="1" fill="#c7c7c7"/><rect x="27" y="28" width="1" height="1" fill="#a0a0a0"/><rect x="28" y="28" width="1" height="1" fill="#c2c2c2"/><rect x="29" y="28" width="1" height="1" fill="#bbbbbb"/><rect x="0" y="29" width="1" height="1" fill="#999999"/><rect x="1" y="29" width="1" height="1" fill="#6b6b6b"/><rect x="2" y="29" width="1" height="1" fill="#a2a2a2"/><rect x="3" y="29" width="1" height="1" fill="#9f9f9f"/><rect x="4" y="29" width="1" height="1" fill="#8e8e8e"/><rect x="5" y="29" width="1" height="1" fill="#b8b8b8"/><rect x="6" y="29" width="1" height="1" fill="#b1b1b1"/><rect x="7" y="29" width="1" height="1" fill="#9e9e9e"/><rect x="8" y="29" width="1" height="1" fill="#b1b1b1"/><rect x="9" y="29" width="1" height="1" fill="#b3b3b3"/><rect x="10" y="29" width="1" height="1" fill="#949494"/><rect x="11" y="29" width="1" height="1" fill="#929292"/><rect x="12" y="29" width="1" height="1" fill="#919191"/><rect x="13" y="29" width="1" height="1" fill="#c3c3c3"/><rect x="14" y="29" width="1" height="1" fill="#a7a7a7"/><rect x="15" y="29" width="1" height="1" fill="#cdcdcd"/><rect x="16" y="29" width="1" height="1" fill="#bababa"/><rect x="17" y="29" width="1" height="1" fill="#b2b2b2"/><rect x="18" y="29" width="1" height="1" fill="#b4b4b4"/><rect x="19" y="29" width="1" height="1" fill="#989898"/><rect x="20" y="29" width="1" height="1" fill="#a7a7a7"/><rect x="21" y="29" width="1" height="1" fill="#c0c0c0"/><rect x="22" y="29" width="1" height="1" fill="#b4b4b4"/><rect x="23" y="29" width="1" height="1" fill="#a5a5a5"/><rect x="24" y="29" width="1" height="1" fill="#818181"/><rect x="25" y="29" width="1" height="1" fill="#8a8a8a"/><rect x="26" y="29" width="1" height="1" fill="#b5b5b5"/><rect x="27" y="29" width="1" height="1" fill="#ababab"/><rect x="28" y="29" width="1" height="1" fill="#bababa"/><rect x="29" y="29" width="1" height="1" fill="#d1d1d1"/></pattern><pattern id="p_dw" patternUnits="userSpaceOnUse" width="6.0" height="5.8" x="0.1" y="1.9"><rect width="6.0" height="5.8" fill="#fff"/><path d="M3.0,0.19999999999999973 Q3.85,2.05 5.75,2.9 Q3.85,3.75 3.0,5.6 Q2.15,3.75 0.25,2.9 Q2.15,2.05 3.0,0.19999999999999973 Z" fill="#000"/></pattern><pattern id="p_vite" patternUnits="userSpaceOnUse" width="4" height="3.16"><rect width="4" height="3.16" fill="#bdbdbd"/><rect y="0" width="4" height="1.55" fill="#4d4d4d"/></pattern><pattern id="p_ae170" patternUnits="userSpaceOnUse" width="2.6" height="2.6"><rect width="2.6" height="2.6" fill="#ffffff"/><rect width="1.3" height="1.3" fill="#3e3e3e"/><rect x="1.3" y="1.3" width="1.3" height="1.3" fill="#3e3e3e"/></pattern><pattern id="p_ae340" patternUnits="userSpaceOnUse" width="3" height="3"><rect x="0" y="0" width="1" height="1" fill="#ffffff"/><rect x="1" y="0" width="1" height="1" fill="#8e8e8e"/><rect x="2" y="0" width="1" height="1" fill="#000000"/><rect x="0" y="1" width="1" height="1" fill="#8e8e8e"/><rect x="1" y="1" width="1" height="1" fill="#000000"/><rect x="2" y="1" width="1" height="1" fill="#ffffff"/><rect x="0" y="2" width="1" height="1" fill="#000000"/><rect x="1" y="2" width="1" height="1" fill="#ffffff"/><rect x="2" y="2" width="1" height="1" fill="#8e8e8e"/></pattern><pattern id="p_me340" patternUnits="userSpaceOnUse" width="8" height="8" patternTransform="translate(0,0) scale(0.74)"><rect width="8" height="8" fill="#fff"/><path d="M6.00,0.00h1.0v1.0h-1.0zM7.00,0.00h1.0v1.0h-1.0zM0.00,1.00h1.0v1.0h-1.0zM5.00,1.00h1.0v1.0h-1.0zM1.00,2.00h1.0v1.0h-1.0zM4.00,2.00h1.0v1.0h-1.0zM2.00,3.00h1.0v1.0h-1.0zM3.00,3.00h1.0v1.0h-1.0zM4.00,4.00h1.0v1.0h-1.0zM5.00,4.00h1.0v1.0h-1.0zM6.00,5.00h1.0v1.0h-1.0zM7.00,6.00h1.0v1.0h-1.0zM7.00,7.00h1.0v1.0h-1.0z" fill="#000"/></pattern><pattern id="p_me170" patternUnits="userSpaceOnUse" width="8" height="8" patternTransform="translate(0,0) scale(0.74)"><rect width="8" height="8" fill="#fff"/><path d="M0.00,0.00h1.0v1.0h-1.0zM4.00,0.00h1.0v1.0h-1.0zM5.00,0.00h1.0v1.0h-1.0zM7.00,0.00h1.0v1.0h-1.0zM4.00,1.00h1.0v1.0h-1.0zM5.00,1.00h1.0v1.0h-1.0zM0.00,2.00h1.0v1.0h-1.0zM1.00,2.00h1.0v1.0h-1.0zM0.00,3.00h1.0v1.0h-1.0zM1.00,3.00h1.0v1.0h-1.0zM3.00,3.00h1.0v1.0h-1.0zM4.00,3.00h1.0v1.0h-1.0zM3.00,4.00h1.0v1.0h-1.0zM4.00,4.00h1.0v1.0h-1.0zM6.00,4.00h1.0v1.0h-1.0zM7.00,4.00h1.0v1.0h-1.0zM6.00,5.00h1.0v1.0h-1.0zM7.00,5.00h1.0v1.0h-1.0zM2.00,6.00h1.0v1.0h-1.0zM3.00,6.00h1.0v1.0h-1.0zM0.00,7.00h1.0v1.0h-1.0zM2.00,7.00h1.0v1.0h-1.0zM3.00,7.00h1.0v1.0h-1.0zM7.00,7.00h1.0v1.0h-1.0z" fill="#000"/></pattern><pattern id="p_cc" patternUnits="userSpaceOnUse" width="8" height="8" patternTransform="translate(0,0) scale(0.74)"><rect width="8" height="8" fill="#fff"/><path d="M-0.14,-0.14h1.28v1.28h-1.28zM-0.14,7.86h1.28v1.28h-1.28zM-0.14,-8.14h1.28v1.28h-1.28zM7.86,-0.14h1.28v1.28h-1.28zM7.86,7.86h1.28v1.28h-1.28zM7.86,-8.14h1.28v1.28h-1.28zM-8.14,-0.14h1.28v1.28h-1.28zM-8.14,7.86h1.28v1.28h-1.28zM-8.14,-8.14h1.28v1.28h-1.28zM3.86,-0.14h1.28v1.28h-1.28zM3.86,7.86h1.28v1.28h-1.28zM3.86,-8.14h1.28v1.28h-1.28zM11.86,-0.14h1.28v1.28h-1.28zM11.86,7.86h1.28v1.28h-1.28zM11.86,-8.14h1.28v1.28h-1.28zM-4.14,-0.14h1.28v1.28h-1.28zM-4.14,7.86h1.28v1.28h-1.28zM-4.14,-8.14h1.28v1.28h-1.28zM0.86,0.86h1.28v1.28h-1.28zM0.86,8.86h1.28v1.28h-1.28zM0.86,-7.14h1.28v1.28h-1.28zM8.86,0.86h1.28v1.28h-1.28zM8.86,8.86h1.28v1.28h-1.28zM8.86,-7.14h1.28v1.28h-1.28zM-7.14,0.86h1.28v1.28h-1.28zM-7.14,8.86h1.28v1.28h-1.28zM-7.14,-7.14h1.28v1.28h-1.28zM2.86,0.86h1.28v1.28h-1.28zM2.86,8.86h1.28v1.28h-1.28zM2.86,-7.14h1.28v1.28h-1.28zM10.86,0.86h1.28v1.28h-1.28zM10.86,8.86h1.28v1.28h-1.28zM10.86,-7.14h1.28v1.28h-1.28zM-5.14,0.86h1.28v1.28h-1.28zM-5.14,8.86h1.28v1.28h-1.28zM-5.14,-7.14h1.28v1.28h-1.28zM4.86,0.86h1.28v1.28h-1.28zM4.86,8.86h1.28v1.28h-1.28zM4.86,-7.14h1.28v1.28h-1.28zM12.86,0.86h1.28v1.28h-1.28zM12.86,8.86h1.28v1.28h-1.28zM12.86,-7.14h1.28v1.28h-1.28zM-3.14,0.86h1.28v1.28h-1.28zM-3.14,8.86h1.28v1.28h-1.28zM-3.14,-7.14h1.28v1.28h-1.28zM1.86,1.86h1.28v1.28h-1.28zM1.86,9.86h1.28v1.28h-1.28zM1.86,-6.14h1.28v1.28h-1.28zM9.86,1.86h1.28v1.28h-1.28zM9.86,9.86h1.28v1.28h-1.28zM9.86,-6.14h1.28v1.28h-1.28zM-6.14,1.86h1.28v1.28h-1.28zM-6.14,9.86h1.28v1.28h-1.28zM-6.14,-6.14h1.28v1.28h-1.28zM5.86,1.86h1.28v1.28h-1.28zM5.86,9.86h1.28v1.28h-1.28zM5.86,-6.14h1.28v1.28h-1.28zM13.86,1.86h1.28v1.28h-1.28zM13.86,9.86h1.28v1.28h-1.28zM13.86,-6.14h1.28v1.28h-1.28zM-2.14,1.86h1.28v1.28h-1.28zM-2.14,9.86h1.28v1.28h-1.28zM-2.14,-6.14h1.28v1.28h-1.28zM0.86,2.86h1.28v1.28h-1.28zM0.86,10.86h1.28v1.28h-1.28zM0.86,-5.14h1.28v1.28h-1.28zM8.86,2.86h1.28v1.28h-1.28zM8.86,10.86h1.28v1.28h-1.28zM8.86,-5.14h1.28v1.28h-1.28zM-7.14,2.86h1.28v1.28h-1.28zM-7.14,10.86h1.28v1.28h-1.28zM-7.14,-5.14h1.28v1.28h-1.28zM4.86,2.86h1.28v1.28h-1.28zM4.86,10.86h1.28v1.28h-1.28zM4.86,-5.14h1.28v1.28h-1.28zM12.86,2.86h1.28v1.28h-1.28zM12.86,10.86h1.28v1.28h-1.28zM12.86,-5.14h1.28v1.28h-1.28zM-3.14,2.86h1.28v1.28h-1.28zM-3.14,10.86h1.28v1.28h-1.28zM-3.14,-5.14h1.28v1.28h-1.28zM6.86,2.86h1.28v1.28h-1.28zM6.86,10.86h1.28v1.28h-1.28zM6.86,-5.14h1.28v1.28h-1.28zM14.86,2.86h1.28v1.28h-1.28zM14.86,10.86h1.28v1.28h-1.28zM14.86,-5.14h1.28v1.28h-1.28zM-1.14,2.86h1.28v1.28h-1.28zM-1.14,10.86h1.28v1.28h-1.28zM-1.14,-5.14h1.28v1.28h-1.28zM-0.14,3.86h1.28v1.28h-1.28zM-0.14,11.86h1.28v1.28h-1.28zM-0.14,-4.14h1.28v1.28h-1.28zM7.86,3.86h1.28v1.28h-1.28zM7.86,11.86h1.28v1.28h-1.28zM7.86,-4.14h1.28v1.28h-1.28zM-8.14,3.86h1.28v1.28h-1.28zM-8.14,11.86h1.28v1.28h-1.28zM-8.14,-4.14h1.28v1.28h-1.28zM3.86,3.86h1.28v1.28h-1.28zM3.86,11.86h1.28v1.28h-1.28zM3.86,-4.14h1.28v1.28h-1.28zM11.86,3.86h1.28v1.28h-1.28zM11.86,11.86h1.28v1.28h-1.28zM11.86,-4.14h1.28v1.28h-1.28zM-4.14,3.86h1.28v1.28h-1.28zM-4.14,11.86h1.28v1.28h-1.28zM-4.14,-4.14h1.28v1.28h-1.28zM2.86,4.86h1.28v1.28h-1.28zM2.86,12.86h1.28v1.28h-1.28zM2.86,-3.14h1.28v1.28h-1.28zM10.86,4.86h1.28v1.28h-1.28zM10.86,12.86h1.28v1.28h-1.28zM10.86,-3.14h1.28v1.28h-1.28zM-5.14,4.86h1.28v1.28h-1.28zM-5.14,12.86h1.28v1.28h-1.28zM-5.14,-3.14h1.28v1.28h-1.28zM4.86,4.86h1.28v1.28h-1.28zM4.86,12.86h1.28v1.28h-1.28zM4.86,-3.14h1.28v1.28h-1.28zM12.86,4.86h1.28v1.28h-1.28zM12.86,12.86h1.28v1.28h-1.28zM12.86,-3.14h1.28v1.28h-1.28zM-3.14,4.86h1.28v1.28h-1.28zM-3.14,12.86h1.28v1.28h-1.28zM-3.14,-3.14h1.28v1.28h-1.28zM1.86,5.86h1.28v1.28h-1.28zM1.86,13.86h1.28v1.28h-1.28zM1.86,-2.14h1.28v1.28h-1.28zM9.86,5.86h1.28v1.28h-1.28zM9.86,13.86h1.28v1.28h-1.28zM9.86,-2.14h1.28v1.28h-1.28zM-6.14,5.86h1.28v1.28h-1.28zM-6.14,13.86h1.28v1.28h-1.28zM-6.14,-2.14h1.28v1.28h-1.28zM5.86,5.86h1.28v1.28h-1.28zM5.86,13.86h1.28v1.28h-1.28zM5.86,-2.14h1.28v1.28h-1.28zM13.86,5.86h1.28v1.28h-1.28zM13.86,13.86h1.28v1.28h-1.28zM13.86,-2.14h1.28v1.28h-1.28zM-2.14,5.86h1.28v1.28h-1.28zM-2.14,13.86h1.28v1.28h-1.28zM-2.14,-2.14h1.28v1.28h-1.28zM0.86,6.86h1.28v1.28h-1.28zM0.86,14.86h1.28v1.28h-1.28zM0.86,-1.14h1.28v1.28h-1.28zM8.86,6.86h1.28v1.28h-1.28zM8.86,14.86h1.28v1.28h-1.28zM8.86,-1.14h1.28v1.28h-1.28zM-7.14,6.86h1.28v1.28h-1.28zM-7.14,14.86h1.28v1.28h-1.28zM-7.14,-1.14h1.28v1.28h-1.28zM2.86,6.86h1.28v1.28h-1.28zM2.86,14.86h1.28v1.28h-1.28zM2.86,-1.14h1.28v1.28h-1.28zM10.86,6.86h1.28v1.28h-1.28zM10.86,14.86h1.28v1.28h-1.28zM10.86,-1.14h1.28v1.28h-1.28zM-5.14,6.86h1.28v1.28h-1.28zM-5.14,14.86h1.28v1.28h-1.28zM-5.14,-1.14h1.28v1.28h-1.28zM6.86,6.86h1.28v1.28h-1.28zM6.86,14.86h1.28v1.28h-1.28zM6.86,-1.14h1.28v1.28h-1.28zM14.86,6.86h1.28v1.28h-1.28zM14.86,14.86h1.28v1.28h-1.28zM14.86,-1.14h1.28v1.28h-1.28zM-1.14,6.86h1.28v1.28h-1.28zM-1.14,14.86h1.28v1.28h-1.28zM-1.14,-1.14h1.28v1.28h-1.28z" fill="#000"/></pattern></defs><rect width="685" height="404" fill="#fff"/><g transform="translate(49.90,70.09)"><rect x="0" y="0" width="14.17" height="96.91" fill="url(#p_untr)"/></g><path d="M56.98,66.45 V73.72 M54.38,66.45 H59.59 M54.38,73.72 H59.59" stroke="#111" stroke-width="0.9" fill="none"/><g transform="translate(78.24,167.00)"><rect x="0" y="-143.95" width="14.17" height="143.95" fill="url(#p_dw)" stroke="#9a9a9a" stroke-width="0.8"/></g><path d="M85.32,21.03 V25.06 M82.72,21.03 H87.92 M82.72,25.06 H87.92" stroke="#111" stroke-width="0.9" fill="none"/><g transform="translate(92.41,40.41)"><rect x="0" y="0" width="14.17" height="126.59" fill="url(#p_cc)"/></g><path d="M99.49,34.15 V46.67 M96.89,34.15 H102.09 M96.89,46.67 H102.09" stroke="#111" stroke-width="0.9" fill="none"/><g transform="translate(106.58,59.19)"><rect x="0" y="0" width="14.17" height="107.81" fill="url(#p_vite)"/></g><path d="M113.66,53.73 V64.64 M111.06,53.73 H116.26 M111.06,64.64 H116.26" stroke="#111" stroke-width="0.9" fill="none"/><g transform="translate(120.75,46.87)"><rect x="0" y="0" width="14.17" height="120.13" fill="url(#p_ae170)"/></g><path d="M127.83,37.58 V56.16 M125.23,37.58 H130.44 M125.23,56.16 H130.44" stroke="#111" stroke-width="0.9" fill="none"/><g transform="translate(134.92,81.39)"><rect x="0" y="0" width="14.17" height="85.61" fill="url(#p_ae340)"/></g><path d="M142.00,77.56 V85.23 M139.41,77.56 H144.60 M139.41,85.23 H144.60" stroke="#111" stroke-width="0.9" fill="none"/><g transform="translate(149.09,69.48)"><rect x="0" y="0" width="14.17" height="97.52" fill="url(#p_me170)"/></g><path d="M156.18,64.43 V74.53 M153.58,64.43 H158.78 M153.58,74.53 H158.78" stroke="#111" stroke-width="0.9" fill="none"/><g transform="translate(163.26,69.68)"><rect x="0" y="0" width="14.17" height="97.32" fill="url(#p_me340)" stroke="#111" stroke-width="0.9"/></g><path d="M170.34,64.43 V74.93 M167.75,64.43 H172.94 M167.75,74.93 H172.94" stroke="#111" stroke-width="0.9" fill="none"/><g transform="translate(226.24,167.00)"><rect x="0" y="-140.93" width="14.17" height="140.93" fill="url(#p_dw)" stroke="#9a9a9a" stroke-width="0.8"/></g><path d="M233.33,21.23 V30.92 M230.73,21.23 H235.93 M230.73,30.92 H235.93" stroke="#111" stroke-width="0.9" fill="none"/><g transform="translate(240.41,44.85)"><rect x="0" y="0" width="14.17" height="122.15" fill="url(#p_cc)"/></g><path d="M247.50,43.03 V46.67 M244.90,43.03 H250.09 M244.90,46.67 H250.09" stroke="#111" stroke-width="0.9" fill="none"/><g transform="translate(254.58,70.29)"><rect x="0" y="0" width="14.17" height="96.71" fill="url(#p_vite)"/></g><path d="M261.67,66.25 V74.33 M259.06,66.25 H264.27 M259.06,74.33 H264.27" stroke="#111" stroke-width="0.9" fill="none"/><g transform="translate(268.75,62.82)"><rect x="0" y="0" width="14.17" height="104.18" fill="url(#p_ae170)"/></g><path d="M275.83,57.17 V68.47 M273.23,57.17 H278.44 M273.23,68.47 H278.44" stroke="#111" stroke-width="0.9" fill="none"/><g transform="translate(282.92,56.16)"><rect x="0" y="0" width="14.17" height="110.84" fill="url(#p_ae340)"/></g><path d="M290.00,52.52 V59.79 M287.40,52.52 H292.61 M287.40,59.79 H292.61" stroke="#111" stroke-width="0.9" fill="none"/><g transform="translate(297.09,56.96)"><rect x="0" y="0" width="14.17" height="110.04" fill="url(#p_me170)"/></g><path d="M304.18,52.93 V61.00 M301.57,52.93 H306.78 M301.57,61.00 H306.78" stroke="#111" stroke-width="0.9" fill="none"/><g transform="translate(311.26,49.49)"><rect x="0" y="0" width="14.17" height="117.51" fill="url(#p_me340)" stroke="#111" stroke-width="0.9"/></g><path d="M318.34,46.26 V52.72 M315.74,46.26 H320.94 M315.74,52.72 H320.94" stroke="#111" stroke-width="0.9" fill="none"/><path d="M39.8,171 V9.6" stroke="#a0a0a0" stroke-width="1.1" fill="none"/><path d="M39.8,5.6 L42.699999999999996,11.1 L36.9,11.1 Z" fill="#888888"/><path d="M39.8,167.4 H331.4" stroke="#a0a0a0" stroke-width="1.1" fill="none"/><path d="M336.4,167.4 L330.4,164.5 L330.4,170.3 Z" fill="#888888"/><path d="M335.9,167.4 V170.9" stroke="#a0a0a0" stroke-width="1" fill="none"/><path d="M187.90,167.4 V171.4" stroke="#a0a0a0" stroke-width="1" fill="none"/><path d="M35.3,167.00 H39.8" stroke="#a0a0a0" stroke-width="1" fill="none"/><text x="25.93" y="170.80" font-size="12.2" textLength="6.47" lengthAdjust="spacingAndGlyphs">0</text><path d="M35.3,146.81 H39.8" stroke="#a0a0a0" stroke-width="1" fill="none"/><text x="19.46" y="150.61" font-size="12.2" textLength="12.93" lengthAdjust="spacingAndGlyphs">10</text><path d="M35.3,126.62 H39.8" stroke="#a0a0a0" stroke-width="1" fill="none"/><text x="19.46" y="130.42" font-size="12.2" textLength="12.93" lengthAdjust="spacingAndGlyphs">20</text><path d="M35.3,106.43 H39.8" stroke="#a0a0a0" stroke-width="1" fill="none"/><text x="19.46" y="110.23" font-size="12.2" textLength="12.93" lengthAdjust="spacingAndGlyphs">30</text><path d="M35.3,86.24 H39.8" stroke="#a0a0a0" stroke-width="1" fill="none"/><text x="19.46" y="90.04" font-size="12.2" textLength="12.93" lengthAdjust="spacingAndGlyphs">40</text><path d="M35.3,66.05 H39.8" stroke="#a0a0a0" stroke-width="1" fill="none"/><text x="19.46" y="69.85" font-size="12.2" textLength="12.93" lengthAdjust="spacingAndGlyphs">50</text><path d="M35.3,45.86 H39.8" stroke="#a0a0a0" stroke-width="1" fill="none"/><text x="19.46" y="49.66" font-size="12.2" textLength="12.93" lengthAdjust="spacingAndGlyphs">60</text><path d="M35.3,25.67 H39.8" stroke="#a0a0a0" stroke-width="1" fill="none"/><text x="19.46" y="29.47" font-size="12.2" textLength="12.93" lengthAdjust="spacingAndGlyphs">70</text><path d="M35.3,5.48 H39.8" stroke="#a0a0a0" stroke-width="1" fill="none"/><text x="19.46" y="9.28" font-size="12.2" textLength="12.93" lengthAdjust="spacingAndGlyphs">80</text><g transform="translate(47.40,279.06)"><rect x="0" y="0" width="14.93" height="86.84" fill="url(#p_untr)"/></g><path d="M54.87,275.96 V282.17 M52.27,275.96 H57.47 M52.27,282.17 H57.47" stroke="#111" stroke-width="0.9" fill="none"/><g transform="translate(77.26,365.90)"><rect x="0" y="-135.71" width="14.93" height="135.71" fill="url(#p_dw)" stroke="#9a9a9a" stroke-width="0.8"/></g><path d="M84.73,223.98 V236.40 M82.13,223.98 H87.33 M82.13,236.40 H87.33" stroke="#111" stroke-width="0.9" fill="none"/><g transform="translate(92.19,258.31)"><rect x="0" y="0" width="14.93" height="107.59" fill="url(#p_cc)"/></g><path d="M99.66,251.39 V265.23 M97.06,251.39 H102.25 M97.06,265.23 H102.25" stroke="#111" stroke-width="0.9" fill="none"/><g transform="translate(107.12,251.48)"><rect x="0" y="0" width="14.93" height="114.42" fill="url(#p_vite)"/></g><path d="M114.59,249.26 V253.69 M111.99,249.26 H117.19 M111.99,253.69 H117.19" stroke="#111" stroke-width="0.9" fill="none"/><g transform="translate(122.05,263.89)"><rect x="0" y="0" width="14.93" height="102.00" fill="url(#p_ae170)"/></g><path d="M129.52,257.42 V270.37 M126.92,257.42 H132.12 M126.92,270.37 H132.12" stroke="#111" stroke-width="0.9" fill="none"/><g transform="translate(136.98,268.77)"><rect x="0" y="0" width="14.93" height="97.13" fill="url(#p_ae340)"/></g><path d="M144.45,262.39 V275.16 M141.85,262.39 H147.05 M141.85,275.16 H147.05" stroke="#111" stroke-width="0.9" fill="none"/><g transform="translate(151.91,263.01)"><rect x="0" y="0" width="14.93" height="102.89" fill="url(#p_me170)"/></g><path d="M159.38,255.47 V270.55 M156.78,255.47 H161.97 M156.78,270.55 H161.97" stroke="#111" stroke-width="0.9" fill="none"/><g transform="translate(166.84,261.77)"><rect x="0" y="0" width="14.93" height="104.13" fill="url(#p_me340)" stroke="#111" stroke-width="0.9"/></g><path d="M174.31,256.44 V267.09 M171.71,256.44 H176.91 M171.71,267.09 H176.91" stroke="#111" stroke-width="0.9" fill="none"/><g transform="translate(233.30,365.90)"><rect x="0" y="-116.11" width="14.93" height="116.11" fill="url(#p_dw)" stroke="#9a9a9a" stroke-width="0.8"/></g><path d="M240.77,245.36 V254.23 M238.17,245.36 H243.37 M238.17,254.23 H243.37" stroke="#111" stroke-width="0.9" fill="none"/><g transform="translate(248.23,262.39)"><rect x="0" y="0" width="14.93" height="103.51" fill="url(#p_cc)"/></g><path d="M255.69,258.22 V266.56 M253.09,258.22 H258.30 M253.09,266.56 H258.30" stroke="#111" stroke-width="0.9" fill="none"/><g transform="translate(263.16,267.09)"><rect x="0" y="0" width="14.93" height="98.81" fill="url(#p_vite)"/></g><path d="M270.62,264.60 V269.57 M268.02,264.60 H273.22 M268.02,269.57 H273.22" stroke="#111" stroke-width="0.9" fill="none"/><g transform="translate(278.09,267.09)"><rect x="0" y="0" width="14.93" height="98.81" fill="url(#p_ae170)"/></g><path d="M285.56,264.16 V270.02 M282.95,264.16 H288.16 M282.95,270.02 H288.16" stroke="#111" stroke-width="0.9" fill="none"/><g transform="translate(293.02,262.56)"><rect x="0" y="0" width="14.93" height="103.34" fill="url(#p_ae340)"/></g><path d="M300.48,259.19 V265.94 M297.88,259.19 H303.08 M297.88,265.94 H303.08" stroke="#111" stroke-width="0.9" fill="none"/><g transform="translate(307.95,261.23)"><rect x="0" y="0" width="14.93" height="104.67" fill="url(#p_me170)"/></g><path d="M315.41,260.52 V261.94 M312.81,260.52 H318.01 M312.81,261.94 H318.01" stroke="#111" stroke-width="0.9" fill="none"/><g transform="translate(322.88,264.87)"><rect x="0" y="0" width="14.93" height="101.03" fill="url(#p_me340)" stroke="#111" stroke-width="0.9"/></g><path d="M330.34,263.98 V265.76 M327.74,263.98 H332.94 M327.74,265.76 H332.94" stroke="#111" stroke-width="0.9" fill="none"/><path d="M37.6,369.8 V210.5" stroke="#a0a0a0" stroke-width="1.1" fill="none"/><path d="M37.6,206.5 L40.5,212.0 L34.7,212.0 Z" fill="#888888"/><path d="M37.6,365.9 H343.7" stroke="#a0a0a0" stroke-width="1.1" fill="none"/><path d="M348.7,365.9 L342.7,363.0 L342.7,368.79999999999995 Z" fill="#888888"/><path d="M348.2,365.9 V369.4" stroke="#a0a0a0" stroke-width="1" fill="none"/><path d="M193.20,365.9 V369.9" stroke="#a0a0a0" stroke-width="1" fill="none"/><path d="M33.1,365.90 H37.6" stroke="#a0a0a0" stroke-width="1" fill="none"/><text x="23.63" y="369.70" font-size="12.2" textLength="6.47" lengthAdjust="spacingAndGlyphs">0</text><path d="M33.1,348.16 H37.6" stroke="#a0a0a0" stroke-width="1" fill="none"/><text x="23.85" y="351.96" font-size="12.2" textLength="6.47" lengthAdjust="spacingAndGlyphs">2</text><path d="M33.1,330.42 H37.6" stroke="#a0a0a0" stroke-width="1" fill="none"/><text x="23.34" y="334.22" font-size="12.2" textLength="6.47" lengthAdjust="spacingAndGlyphs">4</text><path d="M33.1,312.68 H37.6" stroke="#a0a0a0" stroke-width="1" fill="none"/><text x="23.52" y="316.48" font-size="12.2" textLength="6.47" lengthAdjust="spacingAndGlyphs">6</text><path d="M33.1,294.94 H37.6" stroke="#a0a0a0" stroke-width="1" fill="none"/><text x="23.63" y="298.74" font-size="12.2" textLength="6.47" lengthAdjust="spacingAndGlyphs">8</text><path d="M33.1,277.20 H37.6" stroke="#a0a0a0" stroke-width="1" fill="none"/><text x="17.16" y="281.00" font-size="12.2" textLength="12.93" lengthAdjust="spacingAndGlyphs">10</text><path d="M33.1,259.46 H37.6" stroke="#a0a0a0" stroke-width="1" fill="none"/><text x="17.38" y="263.26" font-size="12.2" textLength="12.93" lengthAdjust="spacingAndGlyphs">12</text><path d="M33.1,241.72 H37.6" stroke="#a0a0a0" stroke-width="1" fill="none"/><text x="16.87" y="245.52" font-size="12.2" textLength="12.93" lengthAdjust="spacingAndGlyphs">14</text><path d="M33.1,223.98 H37.6" stroke="#a0a0a0" stroke-width="1" fill="none"/><text x="17.05" y="227.78" font-size="12.2" textLength="12.93" lengthAdjust="spacingAndGlyphs">16</text><path d="M33.1,206.24 H37.6" stroke="#a0a0a0" stroke-width="1" fill="none"/><text x="17.16" y="210.04" font-size="12.2" textLength="12.93" lengthAdjust="spacingAndGlyphs">18</text><g transform="translate(402.40,332.17)"><rect x="0" y="0" width="13.90" height="29.73" fill="url(#p_untr)"/></g><path d="M409.35,329.37 V334.97 M406.75,329.37 H411.95 M406.75,334.97 H411.95" stroke="#111" stroke-width="0.9" fill="none"/><g transform="translate(430.20,361.90)"><rect x="0" y="-121.82" width="13.90" height="121.82" fill="url(#p_dw)" stroke="#9a9a9a" stroke-width="0.8"/></g><path d="M437.15,234.89 V245.28 M434.55,234.89 H439.75 M434.55,245.28 H439.75" stroke="#111" stroke-width="0.9" fill="none"/><g transform="translate(444.10,306.31)"><rect x="0" y="0" width="13.90" height="55.59" fill="url(#p_cc)"/></g><path d="M451.05,300.60 V312.01 M448.45,300.60 H453.65 M448.45,312.01 H453.65" stroke="#111" stroke-width="0.9" fill="none"/><g transform="translate(458.00,311.38)"><rect x="0" y="0" width="13.90" height="50.52" fill="url(#p_vite)"/></g><path d="M464.95,308.00 V314.77 M462.35,308.00 H467.55 M462.35,314.77 H467.55" stroke="#111" stroke-width="0.9" fill="none"/><g transform="translate(471.90,306.55)"><rect x="0" y="0" width="13.90" height="55.35" fill="url(#p_ae170)"/></g><path d="M478.85,301.35 V311.75 M476.25,301.35 H481.45 M476.25,311.75 H481.45" stroke="#111" stroke-width="0.9" fill="none"/><g transform="translate(485.80,316.10)"><rect x="0" y="0" width="13.90" height="45.80" fill="url(#p_ae340)"/></g><path d="M492.75,312.96 V319.24 M490.15,312.96 H495.35 M490.15,319.24 H495.35" stroke="#111" stroke-width="0.9" fill="none"/><g transform="translate(499.70,317.31)"><rect x="0" y="0" width="13.90" height="44.59" fill="url(#p_me170)"/></g><path d="M506.65,311.41 V323.20 M504.05,311.41 H509.25 M504.05,323.20 H509.25" stroke="#111" stroke-width="0.9" fill="none"/><g transform="translate(513.60,275.37)"><rect x="0" y="0" width="13.90" height="86.53" fill="url(#p_me340)" stroke="#111" stroke-width="0.9"/></g><path d="M520.55,270.17 V280.57 M517.95,270.17 H523.15 M517.95,280.57 H523.15" stroke="#111" stroke-width="0.9" fill="none"/><g transform="translate(575.60,361.90)"><rect x="0" y="-73.72" width="13.90" height="73.72" fill="url(#p_dw)" stroke="#9a9a9a" stroke-width="0.8"/></g><path d="M582.55,286.25 V290.12 M579.95,286.25 H585.15 M579.95,290.12 H585.15" stroke="#111" stroke-width="0.9" fill="none"/><g transform="translate(589.50,329.03)"><rect x="0" y="0" width="13.90" height="32.87" fill="url(#p_cc)"/></g><path d="M596.45,327.10 V330.96 M593.85,327.10 H599.05 M593.85,330.96 H599.05" stroke="#111" stroke-width="0.9" fill="none"/><g transform="translate(603.40,341.84)"><rect x="0" y="0" width="13.90" height="20.06" fill="url(#p_vite)"/></g><path d="M610.35,337.49 V346.19 M607.75,337.49 H612.95 M607.75,346.19 H612.95" stroke="#111" stroke-width="0.9" fill="none"/><g transform="translate(617.30,331.93)"><rect x="0" y="0" width="13.90" height="29.97" fill="url(#p_ae170)"/></g><path d="M624.25,329.51 V334.35 M621.65,329.51 H626.85 M621.65,334.35 H626.85" stroke="#111" stroke-width="0.9" fill="none"/><g transform="translate(631.20,341.11)"><rect x="0" y="0" width="13.90" height="20.79" fill="url(#p_ae340)"/></g><path d="M638.15,337.49 V344.74 M635.55,337.49 H640.75 M635.55,344.74 H640.75" stroke="#111" stroke-width="0.9" fill="none"/><g transform="translate(645.10,340.63)"><rect x="0" y="0" width="13.90" height="21.27" fill="url(#p_me170)"/></g><path d="M652.05,334.35 V346.91 M649.45,334.35 H654.65 M649.45,346.91 H654.65" stroke="#111" stroke-width="0.9" fill="none"/><g transform="translate(659.00,333.86)"><rect x="0" y="0" width="13.90" height="28.04" fill="url(#p_me340)" stroke="#111" stroke-width="0.9"/></g><path d="M665.95,328.06 V339.66 M663.35,328.06 H668.55 M663.35,339.66 H668.55" stroke="#111" stroke-width="0.9" fill="none"/><path d="M392.4,365 V221.9" stroke="#a0a0a0" stroke-width="1.1" fill="none"/><path d="M392.4,217.9 L395.29999999999995,223.4 L389.5,223.4 Z" fill="#888888"/><path d="M392.4,362.2 H678.2" stroke="#a0a0a0" stroke-width="1.1" fill="none"/><path d="M683.2,362.2 L677.2,359.3 L677.2,365.09999999999997 Z" fill="#888888"/><path d="M682.7,362.2 V365.7" stroke="#a0a0a0" stroke-width="1" fill="none"/><path d="M538.20,362.2 V366.2" stroke="#a0a0a0" stroke-width="1" fill="none"/><path d="M387.9,361.90 H392.4" stroke="#a0a0a0" stroke-width="1" fill="none"/><text x="377.23" y="365.70" font-size="12.2" textLength="6.47" lengthAdjust="spacingAndGlyphs">0</text><path d="M387.9,337.73 H392.4" stroke="#a0a0a0" stroke-width="1" fill="none"/><text x="370.76" y="341.53" font-size="12.2" textLength="12.93" lengthAdjust="spacingAndGlyphs">10</text><path d="M387.9,313.56 H392.4" stroke="#a0a0a0" stroke-width="1" fill="none"/><text x="370.76" y="317.36" font-size="12.2" textLength="12.93" lengthAdjust="spacingAndGlyphs">20</text><path d="M387.9,289.39 H392.4" stroke="#a0a0a0" stroke-width="1" fill="none"/><text x="370.76" y="293.19" font-size="12.2" textLength="12.93" lengthAdjust="spacingAndGlyphs">30</text><path d="M387.9,265.22 H392.4" stroke="#a0a0a0" stroke-width="1" fill="none"/><text x="370.76" y="269.02" font-size="12.2" textLength="12.93" lengthAdjust="spacingAndGlyphs">40</text><path d="M387.9,241.05 H392.4" stroke="#a0a0a0" stroke-width="1" fill="none"/><text x="370.76" y="244.85" font-size="12.2" textLength="12.93" lengthAdjust="spacingAndGlyphs">50</text><path d="M387.9,216.88 H392.4" stroke="#a0a0a0" stroke-width="1" fill="none"/><text x="370.76" y="220.68" font-size="12.2" textLength="12.93" lengthAdjust="spacingAndGlyphs">60</text><text x="76.06" y="19.10" font-size="12.8" textLength="19.78" lengthAdjust="spacingAndGlyphs">###</text><path d="M95.55,27.85 L95.55,33.05 M93.30,29.15 L97.80,31.75 M97.80,29.15 L93.30,31.75" stroke="#1a1a1a" stroke-width="1.05" stroke-linecap="round" fill="none"/><path d="M102.00,27.85 L102.00,33.05 M99.75,29.15 L104.25,31.75 M104.25,29.15 L99.75,31.75" stroke="#1a1a1a" stroke-width="1.05" stroke-linecap="round" fill="none"/><path d="M108.45,27.85 L108.45,33.05 M106.20,29.15 L110.70,31.75 M110.70,29.15 L106.20,31.75" stroke="#1a1a1a" stroke-width="1.05" stroke-linecap="round" fill="none"/><path d="M113.65,43.90 L113.65,49.10 M111.40,45.20 L115.90,47.80 M115.90,45.20 L111.40,47.80" stroke="#1a1a1a" stroke-width="1.05" stroke-linecap="round" fill="none"/><path d="M136.1,65.2 Q136.1,62.0 137.7,62.0 H176.1 Q177.7,62.0 177.7,65.2 M156.5,62.0 V57.6" stroke="#aaaaaa" stroke-width="2.8" fill="none" stroke-linejoin="round" stroke-linecap="round"/><path d="M150.50,49.45 L150.50,54.65 M148.25,50.75 L152.75,53.35 M152.75,50.75 L148.25,53.35" stroke="#1a1a1a" stroke-width="1.05" stroke-linecap="round" fill="none"/><path d="M156.95,49.45 L156.95,54.65 M154.70,50.75 L159.20,53.35 M159.20,50.75 L154.70,53.35" stroke="#1a1a1a" stroke-width="1.05" stroke-linecap="round" fill="none"/><path d="M163.40,49.45 L163.40,54.65 M161.15,50.75 L165.65,53.35 M165.65,50.75 L161.15,53.35" stroke="#1a1a1a" stroke-width="1.05" stroke-linecap="round" fill="none"/><text x="223.86" y="19.20" font-size="12.8" textLength="19.67" lengthAdjust="spacingAndGlyphs">###</text><path d="M247.35,35.25 L247.35,40.45 M245.10,36.55 L249.60,39.15 M249.60,36.55 L245.10,39.15" stroke="#1a1a1a" stroke-width="1.05" stroke-linecap="round" fill="none"/><path d="M254.5,51.0 Q254.5,47.6 256.1,47.6 H308.59999999999997 Q310.2,47.6 310.2,51.0 M281.9,47.6 V44.2" stroke="#aaaaaa" stroke-width="2.8" fill="none" stroke-linejoin="round" stroke-linecap="round"/><path d="M275.45,36.35 L275.45,41.55 M273.20,37.65 L277.70,40.25 M277.70,37.65 L273.20,40.25" stroke="#1a1a1a" stroke-width="1.05" stroke-linecap="round" fill="none"/><path d="M281.90,36.35 L281.90,41.55 M279.65,37.65 L284.15,40.25 M284.15,37.65 L279.65,40.25" stroke="#1a1a1a" stroke-width="1.05" stroke-linecap="round" fill="none"/><path d="M288.35,36.35 L288.35,41.55 M286.10,37.65 L290.60,40.25 M290.60,37.65 L286.10,40.25" stroke="#1a1a1a" stroke-width="1.05" stroke-linecap="round" fill="none"/><path d="M315.27,38.55 L315.27,43.75 M313.02,39.85 L317.53,42.45 M317.53,39.85 L313.02,42.45" stroke="#1a1a1a" stroke-width="1.05" stroke-linecap="round" fill="none"/><path d="M321.72,38.55 L321.72,43.75 M319.47,39.85 L323.98,42.45 M323.98,39.85 L319.47,42.45" stroke="#1a1a1a" stroke-width="1.05" stroke-linecap="round" fill="none"/><text x="79.77" y="221.80" font-size="12.8" textLength="12.76" lengthAdjust="spacingAndGlyphs">##</text><path d="M144.20,253.90 L144.20,259.10 M141.95,255.20 L146.45,257.80 M146.45,255.20 L141.95,257.80" stroke="#1a1a1a" stroke-width="1.05" stroke-linecap="round" fill="none"/><text x="233.16" y="243.40" font-size="12.8" textLength="13.28" lengthAdjust="spacingAndGlyphs">##</text><path d="M263.9,263.4 Q263.9,260.4 265.5,260.4 H291.0 Q292.6,260.4 292.6,263.4 M278.0,260.4 V257.3" stroke="#aaaaaa" stroke-width="2.8" fill="none" stroke-linejoin="round" stroke-linecap="round"/><path d="M276.27,247.80 L276.27,253.00 M274.02,249.10 L278.53,251.70 M278.53,249.10 L274.02,251.70" stroke="#1a1a1a" stroke-width="1.05" stroke-linecap="round" fill="none"/><path d="M282.72,247.80 L282.72,253.00 M280.47,249.10 L284.98,251.70 M284.98,249.10 L280.47,251.70" stroke="#1a1a1a" stroke-width="1.05" stroke-linecap="round" fill="none"/><path d="M327.65,253.80 L327.65,259.00 M325.40,255.10 L329.90,257.70 M329.90,255.10 L325.40,257.70" stroke="#1a1a1a" stroke-width="1.05" stroke-linecap="round" fill="none"/><text x="428.97" y="236.10" font-size="12.8" textLength="19.26" lengthAdjust="spacingAndGlyphs">###</text><path d="M442.7,301.5 Q442.7,297.5 444.3,297.5 H469.59999999999997 Q471.2,297.5 471.2,301.5 M457.1,297.5 V292.6" stroke="#aaaaaa" stroke-width="2.8" fill="none" stroke-linejoin="round" stroke-linecap="round"/><path d="M450.25,283.20 L450.25,288.40 M448.00,284.50 L452.50,287.10 M452.50,284.50 L448.00,287.10" stroke="#1a1a1a" stroke-width="1.05" stroke-linecap="round" fill="none"/><path d="M456.70,283.20 L456.70,288.40 M454.45,284.50 L458.95,287.10 M458.95,284.50 L454.45,287.10" stroke="#1a1a1a" stroke-width="1.05" stroke-linecap="round" fill="none"/><path d="M463.15,283.20 L463.15,288.40 M460.90,284.50 L465.40,287.10 M465.40,284.50 L460.90,287.10" stroke="#1a1a1a" stroke-width="1.05" stroke-linecap="round" fill="none"/><path d="M478.20,294.75 L478.20,299.95 M475.95,296.05 L480.45,298.65 M480.45,296.05 L475.95,298.65" stroke="#1a1a1a" stroke-width="1.05" stroke-linecap="round" fill="none"/><path d="M485.3,309.90000000000003 Q485.3,306.1 486.90000000000003,306.1 H511.19999999999993 Q512.8,306.1 512.8,309.90000000000003 M498.7,306.1 V301.0" stroke="#aaaaaa" stroke-width="2.8" fill="none" stroke-linejoin="round" stroke-linecap="round"/><path d="M490.75,292.65 L490.75,297.85 M488.50,293.95 L493.00,296.55 M493.00,293.95 L488.50,296.55" stroke="#1a1a1a" stroke-width="1.05" stroke-linecap="round" fill="none"/><path d="M497.20,292.65 L497.20,297.85 M494.95,293.95 L499.45,296.55 M499.45,293.95 L494.95,296.55" stroke="#1a1a1a" stroke-width="1.05" stroke-linecap="round" fill="none"/><path d="M503.65,292.65 L503.65,297.85 M501.40,293.95 L505.90,296.55 M505.90,293.95 L501.40,296.55" stroke="#1a1a1a" stroke-width="1.05" stroke-linecap="round" fill="none"/><text x="569.77" y="285.20" font-size="12.8" textLength="19.47" lengthAdjust="spacingAndGlyphs">###</text><path d="M589.7,324.0 Q589.7,320.7 591.3000000000001,320.7 H671.0 Q672.6,320.7 672.6,324.0 M630.6,320.7 V317.8" stroke="#aaaaaa" stroke-width="2.8" fill="none" stroke-linejoin="round" stroke-linecap="round"/><path d="M623.85,308.80 L623.85,314.00 M621.60,310.10 L626.10,312.70 M626.10,310.10 L621.60,312.70" stroke="#1a1a1a" stroke-width="1.05" stroke-linecap="round" fill="none"/><path d="M630.30,308.80 L630.30,314.00 M628.05,310.10 L632.55,312.70 M632.55,310.10 L628.05,312.70" stroke="#1a1a1a" stroke-width="1.05" stroke-linecap="round" fill="none"/><path d="M636.75,308.80 L636.75,314.00 M634.50,310.10 L639.00,312.70 M639.00,310.10 L634.50,312.70" stroke="#1a1a1a" stroke-width="1.05" stroke-linecap="round" fill="none"/><text x="88.71" y="187.4" font-size="13.0" font-weight="bold" textLength="45.82" lengthAdjust="spacingAndGlyphs">14 Days</text><text x="237.64" y="187.4" font-size="13.0" font-weight="bold" textLength="44.48" lengthAdjust="spacingAndGlyphs">28 Days</text><text x="166.73" y="201.3" font-size="19.5" font-weight="bold" textLength="41.25" lengthAdjust="spacingAndGlyphs">SOD</text><text x="90.64" y="386.0" font-size="13.0" font-weight="bold" textLength="44.59" lengthAdjust="spacingAndGlyphs">14 Days</text><text x="245.63" y="386.0" font-size="13.0" font-weight="bold" textLength="45.60" lengthAdjust="spacingAndGlyphs">28 Days</text><text x="175.02" y="400.1" font-size="17.5" font-weight="bold" textLength="33.72" lengthAdjust="spacingAndGlyphs">CAT</text><text x="439.91" y="382.4" font-size="13.0" font-weight="bold" textLength="45.72" lengthAdjust="spacingAndGlyphs">14 Days</text><text x="586.24" y="382.4" font-size="13.0" font-weight="bold" textLength="44.68" lengthAdjust="spacingAndGlyphs">28 Days</text><text x="474.64" y="399.1" font-size="17.0" font-weight="bold" textLength="126.07" lengthAdjust="spacingAndGlyphs">Total peroxidases</text><text transform="translate(11.0,159.55) rotate(-90)" x="0" y="0" font-size="12.2" textLength="62.12" lengthAdjust="spacingAndGlyphs">Concentration</text><text transform="translate(11.0,88.79) rotate(-90)" x="0" y="0" font-size="12.2" textLength="62.37" lengthAdjust="spacingAndGlyphs">(U/g proteins)</text><text transform="translate(9.6,365.75) rotate(-90)" x="0" y="0" font-size="12.2" textLength="62.12" lengthAdjust="spacingAndGlyphs">Concentration</text><text transform="translate(9.6,300.09) rotate(-90)" x="0" y="0" font-size="12.2" textLength="88.98" lengthAdjust="spacingAndGlyphs">(µmol/min/g  testis)</text><text transform="translate(363.1,354.70) rotate(-90)" x="0" y="0" font-size="12.2" textLength="32.94" lengthAdjust="spacingAndGlyphs">Activity</text><text transform="translate(363.1,313.87) rotate(-90)" x="0" y="0" font-size="12.2" textLength="83.63" lengthAdjust="spacingAndGlyphs">(nmol/min/g  testis)</text><text x="470.69" y="25.50" font-size="12.5" font-weight="bold" textLength="54.35" lengthAdjust="spacingAndGlyphs">Untreated</text><text x="470.39" y="49.30" font-size="12.5" font-weight="bold" textLength="76.00" lengthAdjust="spacingAndGlyphs">Colibri®+DW</text><text x="470.38" y="74.80" font-size="12.5" font-weight="bold" textLength="74.19" lengthAdjust="spacingAndGlyphs">Colibri®+CC</text><text x="470.38" y="98.60" font-size="12.5" font-weight="bold" textLength="83.97" lengthAdjust="spacingAndGlyphs">Colibri®+Vit E</text><text x="470.38" y="123.00" font-size="12.5" font-weight="bold" textLength="129.14" lengthAdjust="spacingAndGlyphs">Colibri®+AE170 mg/kg</text><text x="470.38" y="146.60" font-size="12.5" font-weight="bold" textLength="129.14" lengthAdjust="spacingAndGlyphs">Colibri®+AE340 mg/kg</text><text x="470.38" y="172.00" font-size="12.5" font-weight="bold" textLength="132.04" lengthAdjust="spacingAndGlyphs">Colibri®+ME170 mg/kg</text><text x="470.38" y="196.10" font-size="12.5" font-weight="bold" textLength="132.04" lengthAdjust="spacingAndGlyphs">Colibri®+ME340 mg/kg</text><rect x="460.8" y="18.3" width="6.5" height="6.7" fill="#c4c4c4"/><path d="M461.6,24.5 V20.8 Q464.05,18.0 466.5,20.8 V24.5" fill="none" stroke="#8a8a8a" stroke-width="1.2"/><rect x="461.1" y="22.8" width="1.8" height="1.9" fill="#6a6a6a"/><rect x="461.2" y="42.49999999999999" width="5.7" height="5.9" fill="#fff" stroke="#9a9a9a" stroke-width="0.8"/><path d="M465.40000000000003,43.74999999999999 L467.0,45.449999999999996 L465.40000000000003,47.15 L463.8,45.449999999999996 Z" fill="#000"/><path d="M461.6,43.949999999999996 L463.2,45.449999999999996 L461.6,46.949999999999996 Z" fill="#222"/><g transform="translate(460.8,67.6)"><rect width="6.5" height="6.7" fill="url(#p_cc)" opacity="0.75"/></g><rect x="461.0" y="91.8" width="5.9" height="6.7" fill="#868686"/><rect x="460.80" y="115.60" width="1.31" height="1.35" fill="#3c3c3c"/><rect x="462.10" y="115.60" width="1.31" height="1.35" fill="#d8d8d8"/><rect x="463.40" y="115.60" width="1.31" height="1.35" fill="#3c3c3c"/><rect x="464.70" y="115.60" width="1.31" height="1.35" fill="#d8d8d8"/><rect x="466.00" y="115.60" width="1.31" height="1.35" fill="#3c3c3c"/><rect x="460.80" y="116.94" width="1.31" height="1.35" fill="#d8d8d8"/><rect x="462.10" y="116.94" width="1.31" height="1.35" fill="#3c3c3c"/><rect x="463.40" y="116.94" width="1.31" height="1.35" fill="#d8d8d8"/><rect x="464.70" y="116.94" width="1.31" height="1.35" fill="#3c3c3c"/><rect x="466.00" y="116.94" width="1.31" height="1.35" fill="#d8d8d8"/><rect x="460.80" y="118.28" width="1.31" height="1.35" fill="#3c3c3c"/><rect x="462.10" y="118.28" width="1.31" height="1.35" fill="#d8d8d8"/><rect x="463.40" y="118.28" width="1.31" height="1.35" fill="#3c3c3c"/><rect x="464.70" y="118.28" width="1.31" height="1.35" fill="#d8d8d8"/><rect x="466.00" y="118.28" width="1.31" height="1.35" fill="#3c3c3c"/><rect x="460.80" y="119.62" width="1.31" height="1.35" fill="#d8d8d8"/><rect x="462.10" y="119.62" width="1.31" height="1.35" fill="#3c3c3c"/><rect x="463.40" y="119.62" width="1.31" height="1.35" fill="#d8d8d8"/><rect x="464.70" y="119.62" width="1.31" height="1.35" fill="#3c3c3c"/><rect x="466.00" y="119.62" width="1.31" height="1.35" fill="#d8d8d8"/><rect x="460.80" y="120.96" width="1.31" height="1.35" fill="#3c3c3c"/><rect x="462.10" y="120.96" width="1.31" height="1.35" fill="#d8d8d8"/><rect x="463.40" y="120.96" width="1.31" height="1.35" fill="#3c3c3c"/><rect x="464.70" y="120.96" width="1.31" height="1.35" fill="#d8d8d8"/><rect x="466.00" y="120.96" width="1.31" height="1.35" fill="#3c3c3c"/><rect x="460.80" y="139.20" width="1.31" height="1.35" fill="#000000"/><rect x="462.10" y="139.20" width="1.31" height="1.35" fill="#a8a8a8"/><rect x="463.40" y="139.20" width="1.31" height="1.35" fill="#000000"/><rect x="464.70" y="139.20" width="1.31" height="1.35" fill="#a8a8a8"/><rect x="466.00" y="139.20" width="1.31" height="1.35" fill="#000000"/><rect x="460.80" y="140.54" width="1.31" height="1.35" fill="#a8a8a8"/><rect x="462.10" y="140.54" width="1.31" height="1.35" fill="#000000"/><rect x="463.40" y="140.54" width="1.31" height="1.35" fill="#a8a8a8"/><rect x="464.70" y="140.54" width="1.31" height="1.35" fill="#000000"/><rect x="466.00" y="140.54" width="1.31" height="1.35" fill="#a8a8a8"/><rect x="460.80" y="141.88" width="1.31" height="1.35" fill="#000000"/><rect x="462.10" y="141.88" width="1.31" height="1.35" fill="#a8a8a8"/><rect x="463.40" y="141.88" width="1.31" height="1.35" fill="#000000"/><rect x="464.70" y="141.88" width="1.31" height="1.35" fill="#a8a8a8"/><rect x="466.00" y="141.88" width="1.31" height="1.35" fill="#000000"/><rect x="460.80" y="143.22" width="1.31" height="1.35" fill="#a8a8a8"/><rect x="462.10" y="143.22" width="1.31" height="1.35" fill="#000000"/><rect x="463.40" y="143.22" width="1.31" height="1.35" fill="#a8a8a8"/><rect x="464.70" y="143.22" width="1.31" height="1.35" fill="#000000"/><rect x="466.00" y="143.22" width="1.31" height="1.35" fill="#a8a8a8"/><rect x="460.80" y="144.56" width="1.31" height="1.35" fill="#000000"/><rect x="462.10" y="144.56" width="1.31" height="1.35" fill="#a8a8a8"/><rect x="463.40" y="144.56" width="1.31" height="1.35" fill="#000000"/><rect x="464.70" y="144.56" width="1.31" height="1.35" fill="#a8a8a8"/><rect x="466.00" y="144.56" width="1.31" height="1.35" fill="#000000"/><g transform="translate(460.8,164.8)"><rect width="6.5" height="6.7" fill="url(#p_me170)"/></g><rect x="461.3" y="189.4" width="5.5" height="5.7" fill="#999" stroke="#222" stroke-width="1.0"/><path d="M462.3,191.4 L465.6,194.4" stroke="#fff" stroke-width="1.6"/><path d="M463.8,190.5 L466.0,191.3" stroke="#eee" stroke-width="1.0"/></svg></body></html>
